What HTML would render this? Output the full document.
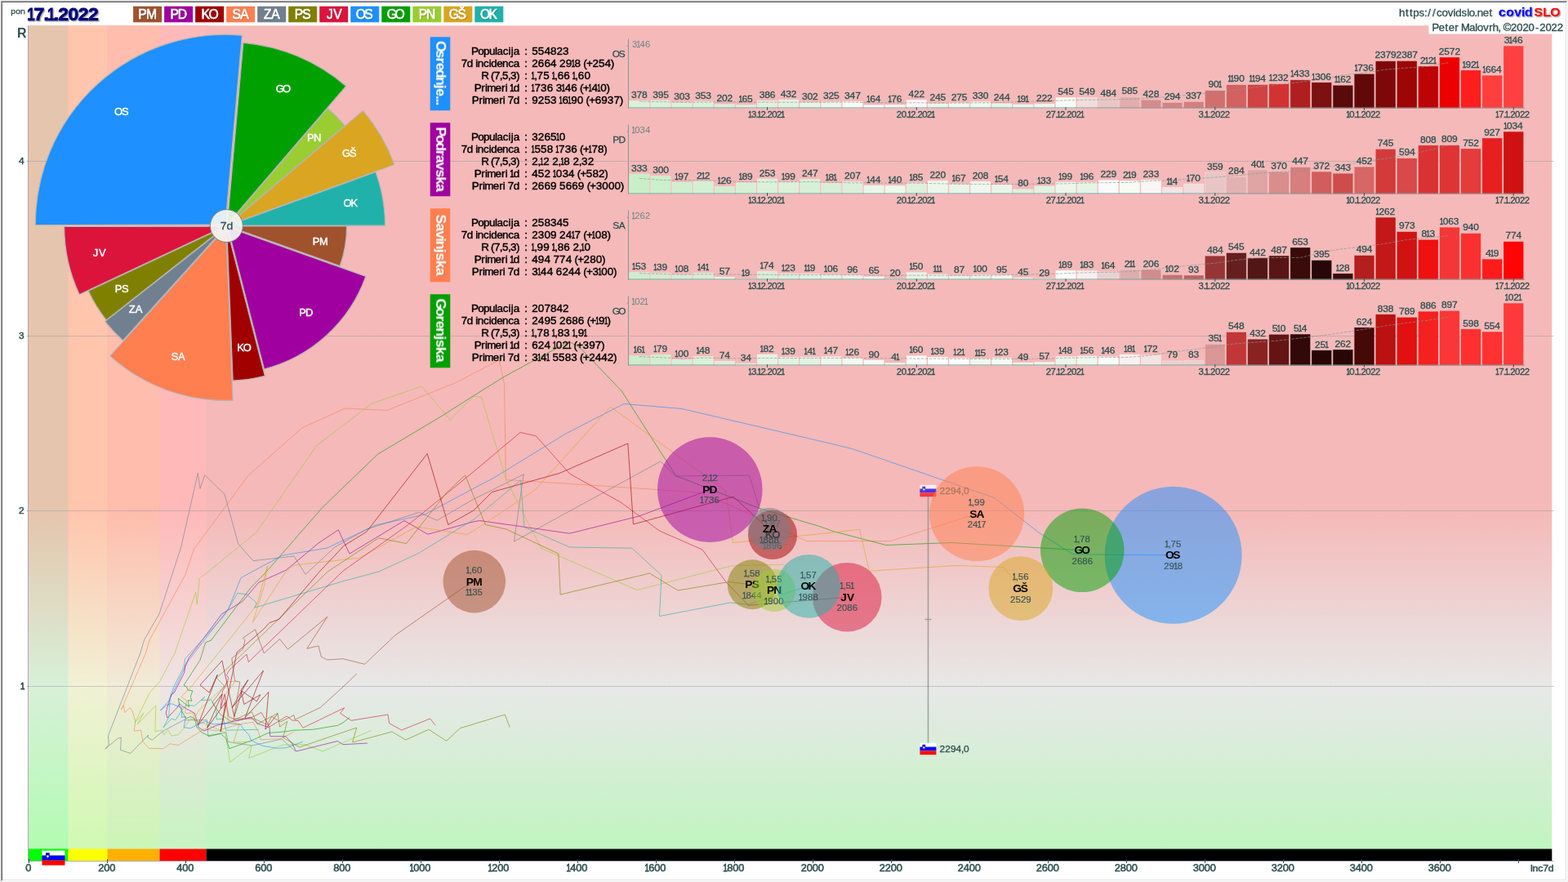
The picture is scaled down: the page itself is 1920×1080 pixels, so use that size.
<!DOCTYPE html>
<html lang="sl"><head><meta charset="utf-8"><title>covidSLO 17.1.2022</title>
<style>html,body{margin:0;padding:0;background:#fff;overflow:hidden}body{width:1920px;height:1080px;font-family:"Liberation Sans",sans-serif}svg{display:block;will-change:transform}text{white-space:pre}</style>
</head><body>
<svg width="1920" height="1080" viewBox="0 0 1920 1080" font-family="'Liberation Sans', sans-serif">
<defs>
<linearGradient id="g0" x1="0" y1="31.3" x2="0" y2="1054" gradientUnits="userSpaceOnUse"><stop offset="0" stop-color="#f5b9b9"/><stop offset="0.5817" stop-color="#f5b9b9"/><stop offset="0.7912" stop-color="#e8e8e8"/><stop offset="1" stop-color="#bdf6bd"/></linearGradient>
<linearGradient id="g1" x1="0" y1="31.3" x2="0" y2="1054" gradientUnits="userSpaceOnUse"><stop offset="0" stop-color="#e5c5ad"/><stop offset="0.5817" stop-color="#e5c5ad"/><stop offset="0.7912" stop-color="#d8f0d8"/><stop offset="1" stop-color="#b0fcb0"/></linearGradient>
<linearGradient id="g2" x1="0" y1="31.3" x2="0" y2="1054" gradientUnits="userSpaceOnUse"><stop offset="0" stop-color="#ffc5ad"/><stop offset="0.5817" stop-color="#ffc5ad"/><stop offset="0.7912" stop-color="#f1f1d5"/><stop offset="1" stop-color="#cdfab0"/></linearGradient>
<linearGradient id="g3" x1="0" y1="31.3" x2="0" y2="1054" gradientUnits="userSpaceOnUse"><stop offset="0" stop-color="#ffbdad"/><stop offset="0.5817" stop-color="#ffbdad"/><stop offset="0.7912" stop-color="#f1ebd7"/><stop offset="1" stop-color="#c9f6b4"/></linearGradient>
<linearGradient id="g4" x1="0" y1="31.3" x2="0" y2="1054" gradientUnits="userSpaceOnUse"><stop offset="0" stop-color="#ffb9b9"/><stop offset="0.5817" stop-color="#ffb9b9"/><stop offset="0.7912" stop-color="#f0e4e4"/><stop offset="1" stop-color="#c4f4c0"/></linearGradient>
<filter id="shd" x="-20%" y="-30%" width="140%" height="160%"><feDropShadow dx="0.7" dy="0.7" stdDeviation="0.2" flood-color="#000000" flood-opacity="0.3"/></filter>
<filter id="shr" x="-20%" y="-30%" width="140%" height="160%"><feDropShadow dx="0.7" dy="-0.7" stdDeviation="0.2" flood-color="#000000" flood-opacity="0.3"/></filter>
<filter id="shl" x="-20%" y="-30%" width="140%" height="160%"><feDropShadow dx="1.2" dy="1.2" stdDeviation="0.3" flood-color="#909090" flood-opacity="0.75"/></filter>
</defs>
<rect x="0" y="0" width="1920" height="1080" fill="#f0f0f0"/>
<rect x="1" y="1" width="1918" height="1078" fill="#ffffff"/>
<path d="M1 1 H1919 V2 H2 V1079 H1 Z" fill="#a0a0a0"/>
<rect x="2" y="2" width="1916" height="1076" fill="#e3e3e3"/>
<path d="M2 2 H1918 V3 H3 V1078 H2 Z" fill="#696969"/>
<rect x="3" y="3" width="1914" height="1074" fill="#ffffff"/>
<rect x="34" y="31.3" width="1866.3" height="1022.7" fill="url(#g0)"/>
<rect x="36" y="31.3" width="47.5" height="1022.7" fill="url(#g1)"/>
<rect x="83.5" y="31.3" width="48.0" height="1022.7" fill="url(#g2)"/>
<rect x="131.5" y="31.3" width="64.0" height="1022.7" fill="url(#g3)"/>
<rect x="195.5" y="31.3" width="57.0" height="1022.7" fill="url(#g4)"/>
<rect x="35" y="1039.5" width="48.5" height="14.5" fill="#00ff00"/>
<rect x="83.5" y="1039.5" width="48.0" height="14.5" fill="#ffff00"/>
<rect x="131.5" y="1039.5" width="64.0" height="14.5" fill="#ffb000"/>
<rect x="195.5" y="1039.5" width="57.0" height="14.5" fill="#ff0000"/>
<rect x="252.5" y="1039.5" width="1647.8" height="14.5" fill="#000000"/>
<line x1="34.5" y1="31.3" x2="34.5" y2="1054" stroke="#a8a8a8" stroke-width="1"/>
<line x1="34" y1="1054.5" x2="1902.3" y2="1054.5" stroke="#8888a0" stroke-width="1" opacity="0.7"/>
<line x1="33" y1="840.5" x2="1903.0" y2="840.5" stroke="#8c949c" stroke-width="1" stroke-dasharray="1 1" opacity="0.85"/>
<text transform="scale(1.08,1)" y="843.70" font-size="11.01" fill="#2f4f4f" font-weight="normal" stroke="#2f4f4f" stroke-width="0.45"><tspan x="23.06" textLength="5.01" lengthAdjust="spacingAndGlyphs" stroke="#2f4f4f" stroke-width="0.75">1</tspan></text>
<line x1="33" y1="625.5" x2="1903.0" y2="625.5" stroke="#8c949c" stroke-width="1" stroke-dasharray="1 1" opacity="0.85"/>
<text transform="scale(1.08,1)" y="628.70" font-size="11.01" fill="#2f4f4f" font-weight="normal" stroke="#2f4f4f" stroke-width="0.45"><tspan x="21.27">2</tspan></text>
<line x1="33" y1="411.5" x2="1903.0" y2="411.5" stroke="#8c949c" stroke-width="1" stroke-dasharray="1 1" opacity="0.85"/>
<text transform="scale(1.08,1)" y="414.70" font-size="11.01" fill="#2f4f4f" font-weight="normal" stroke="#2f4f4f" stroke-width="0.45"><tspan x="21.27">3</tspan></text>
<line x1="33" y1="197.5" x2="1903.0" y2="197.5" stroke="#8c949c" stroke-width="1" stroke-dasharray="1 1" opacity="0.85"/>
<text transform="scale(1.08,1)" y="200.70" font-size="11.01" fill="#2f4f4f" font-weight="normal" stroke="#2f4f4f" stroke-width="0.45"><tspan x="21.27">4</tspan></text>
<text transform="scale(1.0,1)" y="45.80" font-size="15.94" fill="#2f4f4f" font-weight="bold"><tspan x="21.04">R</tspan></text>
<line x1="35.5" y1="1052" x2="35.5" y2="1057" stroke="#2f4f4f" stroke-width="1"/>
<text transform="scale(1.08,1)" y="1066.70" font-size="11.88" fill="#2f4f4f" font-weight="normal" stroke="#2f4f4f" stroke-width="0.5"><tspan x="28.92">0</tspan></text>
<line x1="131.5" y1="1052" x2="131.5" y2="1057" stroke="#2f4f4f" stroke-width="1"/>
<text transform="scale(1.08,1)" y="1066.70" font-size="11.88" fill="#2f4f4f" font-weight="normal" stroke="#2f4f4f" stroke-width="0.5"><tspan x="111.37 117.81 124.24">200</tspan></text>
<line x1="227.5" y1="1052" x2="227.5" y2="1057" stroke="#2f4f4f" stroke-width="1"/>
<text transform="scale(1.08,1)" y="1066.70" font-size="11.88" fill="#2f4f4f" font-weight="normal" stroke="#2f4f4f" stroke-width="0.5"><tspan x="200.26 206.70 213.13">400</tspan></text>
<line x1="323.5" y1="1052" x2="323.5" y2="1057" stroke="#2f4f4f" stroke-width="1"/>
<text transform="scale(1.08,1)" y="1066.70" font-size="11.88" fill="#2f4f4f" font-weight="normal" stroke="#2f4f4f" stroke-width="0.5"><tspan x="289.15 295.58 302.02">600</tspan></text>
<line x1="419.5" y1="1052" x2="419.5" y2="1057" stroke="#2f4f4f" stroke-width="1"/>
<text transform="scale(1.08,1)" y="1066.70" font-size="11.88" fill="#2f4f4f" font-weight="normal" stroke="#2f4f4f" stroke-width="0.5"><tspan x="378.04 384.47 390.91">800</tspan></text>
<line x1="515.5" y1="1052" x2="515.5" y2="1057" stroke="#2f4f4f" stroke-width="1"/>
<text transform="scale(1.08,1)" y="1066.70" font-size="11.88" fill="#2f4f4f" font-weight="normal" stroke="#2f4f4f" stroke-width="0.5"><tspan x="464.44" textLength="4.94" lengthAdjust="spacingAndGlyphs" stroke="#2f4f4f" stroke-width="0.80">1</tspan><tspan x="468.83 475.26 481.70">000</tspan></text>
<line x1="611.5" y1="1052" x2="611.5" y2="1057" stroke="#2f4f4f" stroke-width="1"/>
<text transform="scale(1.08,1)" y="1066.70" font-size="11.88" fill="#2f4f4f" font-weight="normal" stroke="#2f4f4f" stroke-width="0.5"><tspan x="553.33" textLength="4.94" lengthAdjust="spacingAndGlyphs" stroke="#2f4f4f" stroke-width="0.80">1</tspan><tspan x="557.72 564.15 570.59">200</tspan></text>
<line x1="707.5" y1="1052" x2="707.5" y2="1057" stroke="#2f4f4f" stroke-width="1"/>
<text transform="scale(1.08,1)" y="1066.70" font-size="11.88" fill="#2f4f4f" font-weight="normal" stroke="#2f4f4f" stroke-width="0.5"><tspan x="642.22" textLength="4.94" lengthAdjust="spacingAndGlyphs" stroke="#2f4f4f" stroke-width="0.80">1</tspan><tspan x="646.60 653.04 659.48">400</tspan></text>
<line x1="803.5" y1="1052" x2="803.5" y2="1057" stroke="#2f4f4f" stroke-width="1"/>
<text transform="scale(1.08,1)" y="1066.70" font-size="11.88" fill="#2f4f4f" font-weight="normal" stroke="#2f4f4f" stroke-width="0.5"><tspan x="731.11" textLength="4.94" lengthAdjust="spacingAndGlyphs" stroke="#2f4f4f" stroke-width="0.80">1</tspan><tspan x="735.49 741.93 748.37">600</tspan></text>
<line x1="899.5" y1="1052" x2="899.5" y2="1057" stroke="#2f4f4f" stroke-width="1"/>
<text transform="scale(1.08,1)" y="1066.70" font-size="11.88" fill="#2f4f4f" font-weight="normal" stroke="#2f4f4f" stroke-width="0.5"><tspan x="820.00" textLength="4.94" lengthAdjust="spacingAndGlyphs" stroke="#2f4f4f" stroke-width="0.80">1</tspan><tspan x="824.38 830.82 837.26">800</tspan></text>
<line x1="995.5" y1="1052" x2="995.5" y2="1057" stroke="#2f4f4f" stroke-width="1"/>
<text transform="scale(1.08,1)" y="1066.70" font-size="11.88" fill="#2f4f4f" font-weight="normal" stroke="#2f4f4f" stroke-width="0.5"><tspan x="908.15 914.59 921.02 927.46">2000</tspan></text>
<line x1="1091.5" y1="1052" x2="1091.5" y2="1057" stroke="#2f4f4f" stroke-width="1"/>
<text transform="scale(1.08,1)" y="1066.70" font-size="11.88" fill="#2f4f4f" font-weight="normal" stroke="#2f4f4f" stroke-width="0.5"><tspan x="997.04 1003.48 1009.91 1016.35">2200</tspan></text>
<line x1="1187.5" y1="1052" x2="1187.5" y2="1057" stroke="#2f4f4f" stroke-width="1"/>
<text transform="scale(1.08,1)" y="1066.70" font-size="11.88" fill="#2f4f4f" font-weight="normal" stroke="#2f4f4f" stroke-width="0.5"><tspan x="1085.93 1092.37 1098.80 1105.24">2400</tspan></text>
<line x1="1283.5" y1="1052" x2="1283.5" y2="1057" stroke="#2f4f4f" stroke-width="1"/>
<text transform="scale(1.08,1)" y="1066.70" font-size="11.88" fill="#2f4f4f" font-weight="normal" stroke="#2f4f4f" stroke-width="0.5"><tspan x="1174.82 1181.25 1187.69 1194.13">2600</tspan></text>
<line x1="1379.5" y1="1052" x2="1379.5" y2="1057" stroke="#2f4f4f" stroke-width="1"/>
<text transform="scale(1.08,1)" y="1066.70" font-size="11.88" fill="#2f4f4f" font-weight="normal" stroke="#2f4f4f" stroke-width="0.5"><tspan x="1263.71 1270.14 1276.58 1283.02">2800</tspan></text>
<line x1="1475.5" y1="1052" x2="1475.5" y2="1057" stroke="#2f4f4f" stroke-width="1"/>
<text transform="scale(1.08,1)" y="1066.70" font-size="11.88" fill="#2f4f4f" font-weight="normal" stroke="#2f4f4f" stroke-width="0.5"><tspan x="1352.60 1359.03 1365.47 1371.91">3000</tspan></text>
<line x1="1571.5" y1="1052" x2="1571.5" y2="1057" stroke="#2f4f4f" stroke-width="1"/>
<text transform="scale(1.08,1)" y="1066.70" font-size="11.88" fill="#2f4f4f" font-weight="normal" stroke="#2f4f4f" stroke-width="0.5"><tspan x="1441.48 1447.92 1454.36 1460.80">3200</tspan></text>
<line x1="1667.5" y1="1052" x2="1667.5" y2="1057" stroke="#2f4f4f" stroke-width="1"/>
<text transform="scale(1.08,1)" y="1066.70" font-size="11.88" fill="#2f4f4f" font-weight="normal" stroke="#2f4f4f" stroke-width="0.5"><tspan x="1530.37 1536.81 1543.25 1549.68">3400</tspan></text>
<line x1="1763.5" y1="1052" x2="1763.5" y2="1057" stroke="#2f4f4f" stroke-width="1"/>
<text transform="scale(1.08,1)" y="1066.70" font-size="11.88" fill="#2f4f4f" font-weight="normal" stroke="#2f4f4f" stroke-width="0.5"><tspan x="1619.26 1625.70 1632.14 1638.57">3600</tspan></text>
<line x1="1859.5" y1="1052" x2="1859.5" y2="1057" stroke="#2f4f4f" stroke-width="1"/>
<text transform="scale(1.08,1)" y="1066.70" font-size="11.45" fill="#2f4f4f" font-weight="normal" stroke="#2f4f4f" stroke-width="0.45"><tspan x="1735.02 1737.58 1743.73 1749.35 1755.29">Inc7d</tspan></text>
<g opacity="1">
<rect x="51.5" y="1041.6" width="28" height="5.97" fill="#ffffff"/>
<rect x="51.5" y="1047.57" width="28" height="5.97" fill="#0000ff"/>
<rect x="51.5" y="1053.53" width="28" height="5.97" fill="#ff0000"/>
<path d="M56.03 1044.18 H60.69 V1048.37 Q60.69 1050.23 58.36 1051.62 Q56.03 1050.23 56.03 1048.37 Z" fill="#0000c8"/>
<circle cx="58.36" cy="1048.60" r="1.44" fill="#ffffff"/>
<circle cx="58.36" cy="1051.04" r="0.70" fill="#ff0000"/>
</g>
<polyline points="361.7,920.0 345.0,905.0 308.3,913.0 279.2,908.3 276.7,896.7 255.0,902.0 253.3,881.7 225.0,881.7 200.0,895.0 186.3,906.2 180.8,903.0 181.7,900.0 159.7,922.5 147.5,918.3 148.3,903.3 144.2,904.2 128.7,917.2 133.3,911.7 132.5,900.8 171.7,800.0 176.7,783.3 195.0,751.7 221.7,670.0 242.3,579.3 245.0,598.3 250.7,581.7 275.0,605.0 291.7,666.0 310.0,686.7 360.0,681.0 374.0,703.3 410.0,670.0 448.3,648.3 513.3,627.3 535.0,637.3 580.0,611.2 641.2,580.8 629.5,663.0 808.8,565.0 827.5,583.0 917.5,582.0 930.0,622.5 942.2,648.0" fill="none" stroke="#708090" stroke-width="1" stroke-opacity="0.6" stroke-linejoin="round"/>
<polyline points="359.2,896.7 343.3,904.7 319.2,905.8 316.7,896.7 310.0,884.2 293.3,886.7 265.0,895.0 250.0,892.5 245.0,895.8 218.3,912.5 208.3,910.8 200.0,916.7 182.5,916.3 175.0,908.3 172.5,894.2 164.2,895.0 165.8,883.3 162.5,871.7 159.2,866.7 152.5,872.5 151.7,864.2 148.3,869.2 151.7,861.7 178.3,800.0 183.3,783.3 226.7,704.2 237.5,672.5 303.8,582.5 370.0,523.8 422.5,500.0 473.8,502.5 557.5,468.8 611.2,441.0 617.5,470.0 619.5,587.5 730.0,594.5 855.0,603.0 897.5,620.0 987.5,662.5 1090.0,662.5 1196.2,629.2" fill="none" stroke="#ff7f50" stroke-width="1" stroke-opacity="0.6" stroke-linejoin="round"/>
<polyline points="455.0,894.3 395.0,920.0 373.3,911.7 346.7,912.0 304.7,928.3 308.3,912.5 281.7,933.3 275.8,896.7 250.0,886.0 233.3,880.0 225.0,891.7 218.3,899.7 210.0,901.2 205.8,893.7 200.8,900.0 198.3,894.2 190.0,895.8 190.8,863.7 168.3,886.7 175.8,873.3 165.0,885.0 183.3,848.3 195.8,834.2 214.2,799.2 239.7,725.0 241.3,740.0 244.2,708.3 255.0,700.0 313.8,652.0 387.5,545.8 455.0,494.2 516.2,473.0 551.2,514.2 580.0,485.0 589.5,486.2 620.0,588.0 662.5,671.2 780.0,722.5 895.0,693.0 960.0,691.2 963.8,695.0 948.0,722.8" fill="none" stroke="#9acd32" stroke-width="1" stroke-opacity="0.6" stroke-linejoin="round"/>
<polyline points="428.3,878.3 420.0,885.0 413.3,888.3 383.3,893.3 360.0,894.2 350.0,895.8 328.3,897.5 308.3,906.7 280.8,916.7 276.7,904.2 270.0,898.3 255.0,900.8 246.7,896.7 240.8,890.0 238.3,880.0 233.3,877.5 227.5,880.0 220.0,865.0 218.3,855.0 231.7,865.8 230.0,857.5 235.0,858.3 233.3,853.3 235.8,845.8 230.0,845.0 228.3,840.8 225.0,839.2 245.0,808.3 251.7,786.7 258.3,784.2 306.7,720.0 326.2,700.0 395.0,621.2 462.5,556.2 540.0,510.0 580.0,484.5 617.5,461.2 684.0,425.0 697.0,418.5 709.6,425.0 761.2,478.8 827.5,582.5 930.0,622.5 1005.0,645.0 1020.0,650.5 1085.0,667.5 1165.0,664.5 1325.3,673.9" fill="none" stroke="#00a000" stroke-width="1" stroke-opacity="0.6" stroke-linejoin="round"/>
<polyline points="370.8,908.3 350.0,915.8 340.0,916.3 321.7,913.3 307.5,906.7 305.0,900.0 298.3,893.3 295.0,887.5 281.7,885.8 260.0,886.7 251.7,883.3 241.7,887.5 233.3,891.7 225.0,890.8 227.5,877.5 222.5,878.3 222.5,866.7 210.0,861.7 204.2,863.3 196.3,870.0 206.7,858.3 230.0,810.0 280.0,745.0 295.0,707.5 327.5,690.0 346.2,680.0 400.0,671.2 460.0,643.2 520.0,630.0 580.0,598.0 605.0,585.0 692.5,531.2 763.8,494.5 835.0,500.5 1020.0,543.8 1045.0,550.0 1217.5,609.5 1272.5,652.5 1313.8,678.8 1436.6,679.8" fill="none" stroke="#1e90ff" stroke-width="1" stroke-opacity="0.6" stroke-linejoin="round"/>
<polyline points="450.0,910.0 420.0,911.7 413.3,907.5 362.5,920.0 357.5,910.0 350.0,901.7 330.8,901.7 330.0,890.8 316.7,886.7 306.7,878.3 265.0,888.3 250.0,895.0 243.3,890.8 238.3,873.3 223.3,865.0 220.0,861.7 216.7,866.7 205.0,879.2 203.3,873.3 204.2,868.3 210.0,850.0 213.3,848.3 225.8,823.3 226.7,815.0 231.7,805.0 271.7,751.7 296.7,736.7 316.7,713.3 350.0,698.3 390.0,665.0 414.2,648.8 428.0,678.0 495.0,637.5 523.8,654.2 580.0,638.8 587.5,637.5 697.5,653.2 782.5,632.0 869.3,599.6" fill="none" stroke="#a000a0" stroke-width="1" stroke-opacity="0.6" stroke-linejoin="round"/>
<polyline points="316.7,893.3 276.7,894.2 273.3,880.0 265.0,880.8 265.0,868.3 258.3,856.7 246.7,857.5 250.8,853.3 245.0,858.3 238.3,864.2 228.3,863.3 222.5,870.0 215.0,881.7 210.0,880.0 200.0,890.8 206.7,878.3 208.3,853.3 213.3,840.0 225.0,816.7 226.7,806.7 275.0,753.3 290.8,726.3 302.5,728.0 314.2,738.3 311.7,744.2 420.0,711.7 463.8,700.0 512.5,677.5 580.0,636.2 637.5,588.0 642.0,645.5 697.5,670.0 773.8,671.2 810.0,704.5 807.5,754.5 893.8,738.0 916.2,740.0 990.2,717.9" fill="none" stroke="#20b2aa" stroke-width="1" stroke-opacity="0.6" stroke-linejoin="round"/>
<polyline points="306.7,908.0 285.8,909.2 293.3,886.7 279.2,883.3 278.3,871.7 275.0,863.3 275.0,851.7 288.3,834.2 278.3,835.0 273.3,841.7 243.3,870.0 237.5,881.7 236.7,873.3 226.7,873.3 228.3,857.5 221.7,853.3 233.3,841.7 283.3,780.0 315.0,740.0 325.8,698.3 327.5,693.3 323.3,718.3 309.5,761.7 350.0,700.0 360.0,692.0 440.0,683.2 510.0,645.0 571.2,654.5 580.0,650.0 655.0,600.0 747.5,498.0 888.8,601.2 897.5,664.5 955.0,658.8 1020.0,652.0 1052.5,648.2 1064.5,699.2 1170.0,692.5 1228.8,694.5 1249.9,720.7" fill="none" stroke="#daa520" stroke-width="1" stroke-opacity="0.6" stroke-linejoin="round"/>
<polyline points="533.3,888.3 526.7,880.0 491.7,894.0 476.7,885.7 475.0,875.0 430.0,882.3 416.7,873.3 421.7,866.7 420.0,867.5 371.2,891.2 365.0,882.5 357.5,881.9 351.2,876.9 330.0,890.0 320.0,872.5 307.5,878.8 290.0,882.5 280.0,877.5 275.0,850.0 270.0,867.5 272.5,846.2 276.2,840.0 280.0,830.6 277.5,826.2 281.2,820.0 301.9,801.2 304.4,810.6 336.2,780.0 420.0,699.2 500.0,642.5 580.0,577.5 637.0,529.5 656.2,533.8 697.5,580.0 760.0,615.0 807.5,650.0 860.0,673.0 888.8,712.5 916.2,741.2 1037.3,731.2" fill="none" stroke="#dc143c" stroke-width="1" stroke-opacity="0.6" stroke-linejoin="round"/>
<polyline points="624.3,890.7 618.3,875.0 563.3,891.7 546.7,907.3 525.0,893.3 496.7,906.0 480.0,896.0 431.7,909.0 436.7,891.0 420.0,896.7 366.7,915.0 346.7,903.3 351.7,883.3 342.5,890.0 340.0,873.3 315.0,886.7 308.3,871.7 283.3,883.3 270.0,875.0 260.0,860.0 275.0,840.0 265.0,830.0 276.7,820.0 341.7,757.5 401.2,700.0 463.8,658.8 497.5,665.5 547.5,602.5 569.5,581.8 580.0,607.5 594.5,642.5 620.0,648.0 683.8,678.0 686.2,728.0 795.5,702.0 830.0,723.0 892.5,712.5 921.1,715.8" fill="none" stroke="#808000" stroke-width="1" stroke-opacity="0.6" stroke-linejoin="round"/>
<polyline points="340.0,873.8 325.0,893.1 328.8,847.5 300.0,878.8 322.5,821.2 284.4,866.2 303.8,832.5 295.0,845.0 298.8,862.5 318.8,850.6 314.4,858.8 296.2,846.2 286.9,877.5 271.9,809.0 245.0,838.8 256.2,848.1 266.2,826.2 242.5,887.5 271.9,850.0 253.8,891.2 276.2,860.0 270.0,896.2 290.0,798.8 323.3,770.0 330.0,762.5 341.7,758.3 391.2,700.0 421.2,668.2 448.8,651.2 523.2,555.5 548.8,642.5 580.0,625.0 602.5,602.5 685.0,579.5 768.8,543.0 775.5,642.0 898.0,608.2 930.0,637.5 946.1,654.9" fill="none" stroke="#a00000" stroke-width="1" stroke-opacity="0.6" stroke-linejoin="round"/>
<polyline points="436.7,825.0 420.0,841.2 392.5,866.2 361.2,881.2 360.0,875.6 343.8,883.8 332.5,877.5 327.5,887.5 311.2,880.0 286.2,880.0 293.8,835.0 287.5,833.8 283.8,806.2 297.5,795.0 300.0,783.8 297.5,781.2 312.5,770.8 323.3,800.0 342.5,782.5 352.5,795.0 400.8,755.3 375.8,794.2 390.0,790.8 393.3,804.2 400.8,808.0 420.0,806.7 446.7,813.3 483.3,778.3 566.7,720.0 580.8,712.1" fill="none" stroke="#a0522d" stroke-width="1" stroke-opacity="0.6" stroke-linejoin="round"/>
<line x1="1136.5" y1="608" x2="1136.5" y2="910" stroke="#808080" stroke-width="1.6" opacity="0.65"/>
<line x1="1132.5" y1="758.5" x2="1140.5" y2="758.5" stroke="#808080" stroke-width="1.3" opacity="0.65"/>
<g opacity="0.7">
<rect x="1126.4" y="593.7" width="20" height="4.83" fill="#ffffff"/>
<rect x="1126.4" y="598.53" width="20" height="4.83" fill="#0000ff"/>
<rect x="1126.4" y="603.37" width="20" height="4.83" fill="#ff0000"/>
<path d="M1129.42 595.79 H1133.19 V599.18 Q1133.19 600.69 1131.30 601.82 Q1129.42 600.69 1129.42 599.18 Z" fill="#0000c8"/>
<circle cx="1131.30" cy="599.37" r="1.17" fill="#ffffff"/>
<circle cx="1131.30" cy="601.35" r="0.57" fill="#ff0000"/>
</g>
<g opacity="0.95">
<rect x="1126.4" y="909.7" width="20" height="4.83" fill="#ffffff"/>
<rect x="1126.4" y="914.53" width="20" height="4.83" fill="#0000ff"/>
<rect x="1126.4" y="919.37" width="20" height="4.83" fill="#ff0000"/>
<path d="M1129.42 911.79 H1133.19 V915.18 Q1133.19 916.69 1131.30 917.82 Q1129.42 916.69 1129.42 915.18 Z" fill="#0000c8"/>
<circle cx="1131.30" cy="915.37" r="1.17" fill="#ffffff"/>
<circle cx="1131.30" cy="917.35" r="0.57" fill="#ff0000"/>
</g>
<text transform="scale(1.08,1)" y="605.20" font-size="11.01" fill="#2f4f4f" font-weight="normal" stroke="#2f4f4f" stroke-width="0.3" opacity="0.75"><tspan x="1065.31 1071.50 1077.70 1083.89 1089.78 1092.61">2294,0</tspan></text>
<text transform="scale(1.08,1)" y="921.20" font-size="11.01" fill="#2f4f4f" font-weight="normal" stroke="#2f4f4f" stroke-width="0.3"><tspan x="1065.31 1071.50 1077.70 1083.89 1089.78 1092.61">2294,0</tspan></text>
<circle cx="580.80" cy="712.12" r="38.30" fill="#a0522d" fill-opacity="0.5"/>
<text transform="scale(1.08,1)" y="701.92" font-size="10.58" fill="#2f4f4f" font-weight="normal" stroke="#2f4f4f" stroke-width="0.2" opacity="0.9"><tspan x="528.24" textLength="4.57" lengthAdjust="spacingAndGlyphs" stroke="#2f4f4f" stroke-width="0.50">1</tspan><tspan x="532.12 534.84 540.78">,60</tspan></text>
<text transform="scale(1.08,1)" y="716.52" font-size="12.75" fill="#000000" font-weight="bold"><tspan x="528.43 536.46">PM</tspan></text>
<text transform="scale(1.08,1)" y="729.02" font-size="10.58" fill="#2f4f4f" font-weight="normal" stroke="#2f4f4f" stroke-width="0.2" opacity="0.9"><tspan x="527.70" textLength="4.57" lengthAdjust="spacingAndGlyphs" stroke="#2f4f4f" stroke-width="0.50">1</tspan><tspan x="531.21" textLength="4.57" lengthAdjust="spacingAndGlyphs" stroke="#2f4f4f" stroke-width="0.50">1</tspan><tspan x="535.38 541.32">35</tspan></text>
<circle cx="869.28" cy="599.59" r="64.30" fill="#a000a0" fill-opacity="0.5"/>
<text transform="scale(1.08,1)" y="589.39" font-size="10.58" fill="#2f4f4f" font-weight="normal" stroke="#2f4f4f" stroke-width="0.2" opacity="0.9"><tspan x="796.00 801.66">2,</tspan><tspan x="803.73" textLength="4.57" lengthAdjust="spacingAndGlyphs" stroke="#2f4f4f" stroke-width="0.50">1</tspan><tspan x="807.90">2</tspan></text>
<text transform="scale(1.08,1)" y="603.99" font-size="12.75" fill="#000000" font-weight="bold"><tspan x="796.64 804.28">PD</tspan></text>
<text transform="scale(1.08,1)" y="616.49" font-size="10.58" fill="#2f4f4f" font-weight="normal" stroke="#2f4f4f" stroke-width="0.2" opacity="0.9"><tspan x="793.59" textLength="4.57" lengthAdjust="spacingAndGlyphs" stroke="#2f4f4f" stroke-width="0.50">1</tspan><tspan x="797.76 803.70 809.65">736</tspan></text>
<circle cx="946.08" cy="654.89" r="30.05" fill="#a00000" fill-opacity="0.5"/>
<text transform="scale(1.08,1)" y="644.69" font-size="10.58" fill="#2f4f4f" font-weight="normal" stroke="#2f4f4f" stroke-width="0.2" opacity="0.9"><tspan x="866.46" textLength="4.57" lengthAdjust="spacingAndGlyphs" stroke="#2f4f4f" stroke-width="0.50">1</tspan><tspan x="870.34 873.06 879.01">,87</tspan></text>
<text transform="scale(1.08,1)" y="659.29" font-size="12.75" fill="#000000" font-weight="bold"><tspan x="867.40 875.03">KO</tspan></text>
<text transform="scale(1.08,1)" y="671.79" font-size="10.58" fill="#2f4f4f" font-weight="normal" stroke="#2f4f4f" stroke-width="0.2" opacity="0.9"><tspan x="864.70" textLength="4.57" lengthAdjust="spacingAndGlyphs" stroke="#2f4f4f" stroke-width="0.50">1</tspan><tspan x="868.87 874.82 880.76">896</tspan></text>
<circle cx="1196.16" cy="629.17" r="58.00" fill="#ff7f50" fill-opacity="0.5"/>
<text transform="scale(1.08,1)" y="618.97" font-size="10.58" fill="#2f4f4f" font-weight="normal" stroke="#2f4f4f" stroke-width="0.2" opacity="0.9"><tspan x="1098.01" textLength="4.57" lengthAdjust="spacingAndGlyphs" stroke="#2f4f4f" stroke-width="0.50">1</tspan><tspan x="1101.90 1104.61 1110.56">,99</tspan></text>
<text transform="scale(1.08,1)" y="633.57" font-size="12.75" fill="#000000" font-weight="bold"><tspan x="1099.31 1106.94">SA</tspan></text>
<text transform="scale(1.08,1)" y="646.07" font-size="10.58" fill="#2f4f4f" font-weight="normal" stroke="#2f4f4f" stroke-width="0.2" opacity="0.9"><tspan x="1096.91 1102.86">24</tspan><tspan x="1108.15" textLength="4.57" lengthAdjust="spacingAndGlyphs" stroke="#2f4f4f" stroke-width="0.50">1</tspan><tspan x="1112.32">7</tspan></text>
<circle cx="942.24" cy="648.03" r="26.20" fill="#708090" fill-opacity="0.5"/>
<text transform="scale(1.08,1)" y="637.83" font-size="10.58" fill="#2f4f4f" font-weight="normal" stroke="#2f4f4f" stroke-width="0.2" opacity="0.9"><tspan x="862.90" textLength="4.57" lengthAdjust="spacingAndGlyphs" stroke="#2f4f4f" stroke-width="0.50">1</tspan><tspan x="866.78 869.50 875.45">,90</tspan></text>
<text transform="scale(1.08,1)" y="652.43" font-size="12.75" fill="#000000" font-weight="bold"><tspan x="864.56 871.83">ZA</tspan></text>
<text transform="scale(1.08,1)" y="664.93" font-size="10.58" fill="#2f4f4f" font-weight="normal" stroke="#2f4f4f" stroke-width="0.2" opacity="0.9"><tspan x="861.15" textLength="4.57" lengthAdjust="spacingAndGlyphs" stroke="#2f4f4f" stroke-width="0.50">1</tspan><tspan x="865.31 871.26 877.21">888</tspan></text>
<circle cx="921.12" cy="715.76" r="30.40" fill="#808000" fill-opacity="0.5"/>
<text transform="scale(1.08,1)" y="705.56" font-size="10.58" fill="#2f4f4f" font-weight="normal" stroke="#2f4f4f" stroke-width="0.2" opacity="0.9"><tspan x="843.35" textLength="4.57" lengthAdjust="spacingAndGlyphs" stroke="#2f4f4f" stroke-width="0.50">1</tspan><tspan x="847.23 849.95 855.90">,58</tspan></text>
<text transform="scale(1.08,1)" y="720.16" font-size="12.75" fill="#000000" font-weight="bold"><tspan x="844.64 852.63">PS</tspan></text>
<text transform="scale(1.08,1)" y="732.66" font-size="10.58" fill="#2f4f4f" font-weight="normal" stroke="#2f4f4f" stroke-width="0.2" opacity="0.9"><tspan x="841.59" textLength="4.57" lengthAdjust="spacingAndGlyphs" stroke="#2f4f4f" stroke-width="0.50">1</tspan><tspan x="845.76 851.70 857.65">844</tspan></text>
<circle cx="1037.28" cy="731.19" r="42.30" fill="#dc143c" fill-opacity="0.5"/>
<text transform="scale(1.08,1)" y="720.99" font-size="10.58" fill="#2f4f4f" font-weight="normal" stroke="#2f4f4f" stroke-width="0.2" opacity="0.9"><tspan x="952.12" textLength="4.57" lengthAdjust="spacingAndGlyphs" stroke="#2f4f4f" stroke-width="0.50">1</tspan><tspan x="956.00 958.72">,5</tspan><tspan x="964.02" textLength="4.57" lengthAdjust="spacingAndGlyphs" stroke="#2f4f4f" stroke-width="0.50">1</tspan></text>
<text transform="scale(1.08,1)" y="735.59" font-size="12.75" fill="#000000" font-weight="bold"><tspan x="952.91 960.18">JV</tspan></text>
<text transform="scale(1.08,1)" y="748.09" font-size="10.58" fill="#2f4f4f" font-weight="normal" stroke="#2f4f4f" stroke-width="0.2" opacity="0.9"><tspan x="948.58 954.53 960.48 966.42">2086</tspan></text>
<circle cx="1436.64" cy="679.82" r="84.00" fill="#1e90ff" fill-opacity="0.5"/>
<text transform="scale(1.08,1)" y="669.62" font-size="10.58" fill="#2f4f4f" font-weight="normal" stroke="#2f4f4f" stroke-width="0.2" opacity="0.9"><tspan x="1320.68" textLength="4.57" lengthAdjust="spacingAndGlyphs" stroke="#2f4f4f" stroke-width="0.50">1</tspan><tspan x="1324.56 1327.28 1333.23">,75</tspan></text>
<text transform="scale(1.08,1)" y="684.22" font-size="12.75" fill="#000000" font-weight="bold"><tspan x="1321.27 1329.96">OS</tspan></text>
<text transform="scale(1.08,1)" y="696.72" font-size="10.58" fill="#2f4f4f" font-weight="normal" stroke="#2f4f4f" stroke-width="0.2" opacity="0.9"><tspan x="1319.57 1325.52">29</tspan><tspan x="1330.82" textLength="4.57" lengthAdjust="spacingAndGlyphs" stroke="#2f4f4f" stroke-width="0.50">1</tspan><tspan x="1334.99">8</tspan></text>
<circle cx="1325.28" cy="673.87" r="51.25" fill="#00a000" fill-opacity="0.5"/>
<text transform="scale(1.08,1)" y="663.67" font-size="10.58" fill="#2f4f4f" font-weight="normal" stroke="#2f4f4f" stroke-width="0.2" opacity="0.9"><tspan x="1217.57" textLength="4.57" lengthAdjust="spacingAndGlyphs" stroke="#2f4f4f" stroke-width="0.50">1</tspan><tspan x="1221.45 1224.17 1230.12">,78</tspan></text>
<text transform="scale(1.08,1)" y="678.27" font-size="12.75" fill="#000000" font-weight="bold"><tspan x="1218.16 1226.14">GO</tspan></text>
<text transform="scale(1.08,1)" y="690.77" font-size="10.58" fill="#2f4f4f" font-weight="normal" stroke="#2f4f4f" stroke-width="0.2" opacity="0.9"><tspan x="1215.25 1221.20 1227.14 1233.09">2686</tspan></text>
<circle cx="948.00" cy="722.83" r="26.20" fill="#9acd32" fill-opacity="0.5"/>
<text transform="scale(1.08,1)" y="712.63" font-size="10.58" fill="#2f4f4f" font-weight="normal" stroke="#2f4f4f" stroke-width="0.2" opacity="0.9"><tspan x="868.24" textLength="4.57" lengthAdjust="spacingAndGlyphs" stroke="#2f4f4f" stroke-width="0.50">1</tspan><tspan x="872.12 874.84 880.78">,55</tspan></text>
<text transform="scale(1.08,1)" y="727.23" font-size="12.75" fill="#000000" font-weight="bold"><tspan x="869.53 877.17">PN</tspan></text>
<text transform="scale(1.08,1)" y="739.73" font-size="10.58" fill="#2f4f4f" font-weight="normal" stroke="#2f4f4f" stroke-width="0.2" opacity="0.9"><tspan x="866.48" textLength="4.57" lengthAdjust="spacingAndGlyphs" stroke="#2f4f4f" stroke-width="0.50">1</tspan><tspan x="870.65 876.59 882.54">900</tspan></text>
<circle cx="1249.92" cy="720.69" r="39.40" fill="#daa520" fill-opacity="0.5"/>
<text transform="scale(1.08,1)" y="710.49" font-size="10.58" fill="#2f4f4f" font-weight="normal" stroke="#2f4f4f" stroke-width="0.2" opacity="0.9"><tspan x="1147.79" textLength="4.57" lengthAdjust="spacingAndGlyphs" stroke="#2f4f4f" stroke-width="0.50">1</tspan><tspan x="1151.67 1154.39 1160.34">,56</tspan></text>
<text transform="scale(1.08,1)" y="725.09" font-size="12.75" fill="#000000" font-weight="bold"><tspan x="1148.38 1157.07">GŠ</tspan></text>
<text transform="scale(1.08,1)" y="737.59" font-size="10.58" fill="#2f4f4f" font-weight="normal" stroke="#2f4f4f" stroke-width="0.2" opacity="0.9"><tspan x="1145.47 1151.42 1157.37 1163.31">2529</tspan></text>
<circle cx="990.24" cy="717.90" r="38.90" fill="#20b2aa" fill-opacity="0.5"/>
<text transform="scale(1.08,1)" y="707.70" font-size="10.58" fill="#2f4f4f" font-weight="normal" stroke="#2f4f4f" stroke-width="0.2" opacity="0.9"><tspan x="907.35" textLength="4.57" lengthAdjust="spacingAndGlyphs" stroke="#2f4f4f" stroke-width="0.50">1</tspan><tspan x="911.23 913.95 919.90">,57</tspan></text>
<text transform="scale(1.08,1)" y="722.30" font-size="12.75" fill="#000000" font-weight="bold"><tspan x="907.94 916.28">OK</tspan></text>
<text transform="scale(1.08,1)" y="734.80" font-size="10.58" fill="#2f4f4f" font-weight="normal" stroke="#2f4f4f" stroke-width="0.2" opacity="0.9"><tspan x="905.59" textLength="4.57" lengthAdjust="spacingAndGlyphs" stroke="#2f4f4f" stroke-width="0.50">1</tspan><tspan x="909.76 915.70 921.65">988</tspan></text>
<rect x="526.7" y="45.3" width="24.6" height="90" fill="#1e90ff"/>
<g transform="translate(534.2,90.3) rotate(90)">
<text transform="scale(1.08,1)" y="0.00" font-size="16.38" fill="#ffffff" font-weight="bold" filter="url(#shr)"><tspan x="-37.30 -26.68 -18.24 -12.54 -4.81 3.37 12.49 16.61 24.71 28.18 31.64">Osrednje...</tspan></text>
</g>
<text transform="scale(1.08,1)" y="66.80" font-size="12.46" fill="#000000" font-weight="normal" stroke="#000000" stroke-width="0.4"><tspan x="534.26 541.81 548.19 554.56 561.07 563.41 570.14 576.29 579.33 582.24">Populacija</tspan></text>
<text transform="scale(1.08,1)" y="66.80" font-size="12.46" fill="#000000" font-weight="normal" stroke="#000000" stroke-width="0.4"><tspan x="594.74">:</tspan></text>
<text transform="scale(1.08,1)" y="66.80" font-size="12.46" fill="#000000" font-weight="normal" stroke="#000000" stroke-width="0.4"><tspan x="603.00 610.01 617.02 624.02 631.03 638.04">554823</tspan></text>
<text transform="scale(1.08,1)" y="81.80" font-size="12.46" fill="#000000" font-weight="normal" stroke="#000000" stroke-width="0.4"><tspan x="523.02 529.51 536.01 539.17 541.51 548.24 554.39 556.74 563.11 569.49 576.21 582.24">7d incidenca</tspan></text>
<text transform="scale(1.08,1)" y="81.80" font-size="12.46" fill="#000000" font-weight="normal" stroke="#000000" stroke-width="0.4"><tspan x="594.74">:</tspan></text>
<text transform="scale(1.08,1)" y="81.80" font-size="12.46" fill="#000000" font-weight="normal" stroke="#000000" stroke-width="0.4"><tspan x="603.00 610.01 617.02 624.02 630.93 634.37 641.38">2664 29</tspan><tspan x="647.82" textLength="3.93" lengthAdjust="spacingAndGlyphs" stroke="#000000" stroke-width="0.70">1</tspan><tspan x="651.42 658.33 661.45 664.86 671.72 678.73 685.74 692.42">8 (+254)</tspan></text>
<text transform="scale(1.08,1)" y="96.80" font-size="12.46" fill="#000000" font-weight="normal" stroke="#000000" stroke-width="0.4"><tspan x="545.61 553.63 556.55 560.15 566.53 569.45 575.83 578.75 585.13">R (7,5,3)</tspan></text>
<text transform="scale(1.08,1)" y="96.80" font-size="12.46" fill="#000000" font-weight="normal" stroke="#000000" stroke-width="0.4"><tspan x="594.74">:</tspan></text>
<text transform="scale(1.08,1)" y="96.80" font-size="12.46" fill="#000000" font-weight="normal" stroke="#000000" stroke-width="0.4"><tspan x="602.43" textLength="3.93" lengthAdjust="spacingAndGlyphs" stroke="#000000" stroke-width="0.70">1</tspan><tspan x="605.69 608.89 615.90 622.81">,75 </tspan><tspan x="625.68" textLength="3.93" lengthAdjust="spacingAndGlyphs" stroke="#000000" stroke-width="0.70">1</tspan><tspan x="628.94 632.15 639.15 646.06">,66 </tspan><tspan x="648.93" textLength="3.93" lengthAdjust="spacingAndGlyphs" stroke="#000000" stroke-width="0.70">1</tspan><tspan x="652.19 655.40 662.40">,60</tspan></text>
<text transform="scale(1.08,1)" y="111.80" font-size="12.46" fill="#000000" font-weight="normal" stroke="#000000" stroke-width="0.4"><tspan x="537.63 545.71 549.97 552.09 561.69 568.59 572.84 575.31">Primeri </tspan><tspan x="577.93" textLength="5.07" lengthAdjust="spacingAndGlyphs" stroke="#000000" stroke-width="0.70">1</tspan><tspan x="582.24">d</tspan></text>
<text transform="scale(1.08,1)" y="111.80" font-size="12.46" fill="#000000" font-weight="normal" stroke="#000000" stroke-width="0.4"><tspan x="594.74">:</tspan></text>
<text transform="scale(1.08,1)" y="111.80" font-size="12.46" fill="#000000" font-weight="normal" stroke="#000000" stroke-width="0.4"><tspan x="602.43" textLength="3.93" lengthAdjust="spacingAndGlyphs" stroke="#000000" stroke-width="0.70">1</tspan><tspan x="606.03 613.03 620.04 626.95 630.39">736 3</tspan><tspan x="636.83" textLength="3.93" lengthAdjust="spacingAndGlyphs" stroke="#000000" stroke-width="0.70">1</tspan><tspan x="640.43 647.43 654.34 657.46 660.88">46 (+</tspan><tspan x="667.17" textLength="3.93" lengthAdjust="spacingAndGlyphs" stroke="#000000" stroke-width="0.70">1</tspan><tspan x="670.77">4</tspan><tspan x="677.20" textLength="3.93" lengthAdjust="spacingAndGlyphs" stroke="#000000" stroke-width="0.70">1</tspan><tspan x="680.80 687.48">0)</tspan></text>
<text transform="scale(1.08,1)" y="126.80" font-size="12.46" fill="#000000" font-weight="normal" stroke="#000000" stroke-width="0.4"><tspan x="534.93 543.01 547.27 549.39 558.99 565.89 570.14 572.61 575.75 582.24">Primeri 7d</tspan></text>
<text transform="scale(1.08,1)" y="126.80" font-size="12.46" fill="#000000" font-weight="normal" stroke="#000000" stroke-width="0.4"><tspan x="594.74">:</tspan></text>
<text transform="scale(1.08,1)" y="126.80" font-size="12.46" fill="#000000" font-weight="normal" stroke="#000000" stroke-width="0.4"><tspan x="603.00 610.01 617.02 624.02 630.93">9253 </tspan><tspan x="633.80" textLength="3.93" lengthAdjust="spacingAndGlyphs" stroke="#000000" stroke-width="0.70">1</tspan><tspan x="637.40">6</tspan><tspan x="643.84" textLength="3.93" lengthAdjust="spacingAndGlyphs" stroke="#000000" stroke-width="0.70">1</tspan><tspan x="647.43 654.44 661.35 664.47 667.88 674.75 681.75 688.76 695.77 702.46">90 (+6937)</tspan></text>
<text transform="scale(1.08,1)" y="69.60" font-size="11.01" fill="#2f4f4f" font-weight="normal" stroke="#2f4f4f" stroke-width="0.25"><tspan x="694.17 701.67">OS</tspan></text>
<line x1="767.5" y1="56.3" x2="770" y2="56.3" stroke="#7f9a9a" stroke-width="1"/>
<text transform="scale(1.08,1)" y="57.60" font-size="10.43" fill="#6f8585" font-weight="normal"><tspan x="716.70">3</tspan><tspan x="722.01" textLength="3.90" lengthAdjust="spacingAndGlyphs" stroke="#6f8585" stroke-width="0.30">1</tspan><tspan x="725.57 731.43">46</tspan></text>
<rect x="770.60" y="123.46" width="24.6" height="9.19" fill="#daf1da" fill-opacity="1" stroke="#ffffff" stroke-opacity="0.25" stroke-width="0.8"/>
<rect x="796.71" y="123.04" width="24.6" height="9.61" fill="#daf1da" fill-opacity="1" stroke="#ffffff" stroke-opacity="0.25" stroke-width="0.8"/>
<rect x="822.81" y="125.28" width="24.6" height="7.37" fill="#daf1da" fill-opacity="1" stroke="#ffffff" stroke-opacity="0.25" stroke-width="0.8"/>
<rect x="848.92" y="124.07" width="24.6" height="8.58" fill="#daf1da" fill-opacity="1" stroke="#ffffff" stroke-opacity="0.25" stroke-width="0.8"/>
<rect x="875.03" y="127.74" width="24.6" height="4.91" fill="#dbf0db" fill-opacity="1" stroke="#ffffff" stroke-opacity="0.25" stroke-width="0.8"/>
<rect x="901.13" y="128.64" width="24.6" height="4.01" fill="#dff1df" fill-opacity="1" stroke="#ffffff" stroke-opacity="0.25" stroke-width="0.8"/>
<rect x="927.24" y="123.26" width="24.6" height="9.39" fill="#dff1df" fill-opacity="1" stroke="#ffffff" stroke-opacity="0.25" stroke-width="0.8"/>
<rect x="953.35" y="122.15" width="24.6" height="10.50" fill="#e2f3e2" fill-opacity="1" stroke="#ffffff" stroke-opacity="0.25" stroke-width="0.8"/>
<rect x="979.46" y="125.31" width="24.6" height="7.34" fill="#e6f4e6" fill-opacity="1" stroke="#ffffff" stroke-opacity="0.25" stroke-width="0.8"/>
<rect x="1005.56" y="124.75" width="24.6" height="7.90" fill="#eaf6ea" fill-opacity="1" stroke="#ffffff" stroke-opacity="0.25" stroke-width="0.8"/>
<rect x="1031.67" y="124.21" width="24.6" height="8.44" fill="#f6fbf6" fill-opacity="1" stroke="#ffffff" stroke-opacity="0.25" stroke-width="0.8"/>
<rect x="1057.78" y="128.66" width="24.6" height="3.99" fill="#fdfafa" fill-opacity="1" stroke="#ffffff" stroke-opacity="0.25" stroke-width="0.8"/>
<rect x="1083.88" y="128.37" width="24.6" height="4.28" fill="#fcf8f8" fill-opacity="1" stroke="#ffffff" stroke-opacity="0.25" stroke-width="0.8"/>
<rect x="1109.99" y="122.39" width="24.6" height="10.26" fill="#fcf8f8" fill-opacity="1" stroke="#ffffff" stroke-opacity="0.25" stroke-width="0.8"/>
<rect x="1136.10" y="126.69" width="24.6" height="5.96" fill="#ebf6eb" fill-opacity="1" stroke="#ffffff" stroke-opacity="0.25" stroke-width="0.8"/>
<rect x="1162.20" y="125.96" width="24.6" height="6.69" fill="#eff8ef" fill-opacity="1" stroke="#ffffff" stroke-opacity="0.25" stroke-width="0.8"/>
<rect x="1188.31" y="124.63" width="24.6" height="8.02" fill="#eef8ee" fill-opacity="1" stroke="#ffffff" stroke-opacity="0.25" stroke-width="0.8"/>
<rect x="1214.42" y="126.72" width="24.6" height="5.93" fill="#e6f4e6" fill-opacity="1" stroke="#ffffff" stroke-opacity="0.25" stroke-width="0.8"/>
<rect x="1240.53" y="128.01" width="24.6" height="4.64" fill="#ebf6eb" fill-opacity="1" stroke="#ffffff" stroke-opacity="0.25" stroke-width="0.8"/>
<rect x="1266.63" y="127.25" width="24.6" height="5.40" fill="#eef7ee" fill-opacity="1" stroke="#ffffff" stroke-opacity="0.25" stroke-width="0.8"/>
<rect x="1292.74" y="119.40" width="24.6" height="13.25" fill="#f6fbf6" fill-opacity="1" stroke="#ffffff" stroke-opacity="0.25" stroke-width="0.8"/>
<rect x="1318.85" y="119.30" width="24.6" height="13.35" fill="#f1dddd" fill-opacity="1" stroke="#ffffff" stroke-opacity="0.25" stroke-width="0.8"/>
<rect x="1344.95" y="120.88" width="24.6" height="11.77" fill="#e9c6c6" fill-opacity="1" stroke="#ffffff" stroke-opacity="0.25" stroke-width="0.8"/>
<rect x="1371.06" y="118.42" width="24.6" height="14.23" fill="#e1adad" fill-opacity="1" stroke="#ffffff" stroke-opacity="0.25" stroke-width="0.8"/>
<rect x="1397.17" y="122.24" width="24.6" height="10.41" fill="#d68b8b" fill-opacity="1" stroke="#ffffff" stroke-opacity="0.25" stroke-width="0.8"/>
<rect x="1423.28" y="125.50" width="24.6" height="7.15" fill="#d48484" fill-opacity="1" stroke="#ffffff" stroke-opacity="0.25" stroke-width="0.8"/>
<rect x="1449.38" y="124.46" width="24.6" height="8.19" fill="#d47f7f" fill-opacity="1" stroke="#ffffff" stroke-opacity="0.25" stroke-width="0.8"/>
<rect x="1475.49" y="110.74" width="24.6" height="21.91" fill="#d16f6f" fill-opacity="1" stroke="#ffffff" stroke-opacity="0.25" stroke-width="0.8"/>
<rect x="1501.60" y="103.71" width="24.6" height="28.94" fill="#d36161" fill-opacity="1" stroke="#ffffff" stroke-opacity="0.25" stroke-width="0.8"/>
<rect x="1527.70" y="103.62" width="24.6" height="29.03" fill="#d14242" fill-opacity="1" stroke="#ffffff" stroke-opacity="0.25" stroke-width="0.8"/>
<rect x="1553.81" y="102.69" width="24.6" height="29.96" fill="#d33232" fill-opacity="1" stroke="#ffffff" stroke-opacity="0.25" stroke-width="0.8"/>
<rect x="1579.92" y="97.80" width="24.6" height="34.85" fill="#b01f1f" fill-opacity="1" stroke="#ffffff" stroke-opacity="0.25" stroke-width="0.8"/>
<rect x="1606.02" y="100.89" width="24.6" height="31.76" fill="#7c1111" fill-opacity="1" stroke="#ffffff" stroke-opacity="0.25" stroke-width="0.8"/>
<rect x="1632.13" y="104.39" width="24.6" height="28.26" fill="#590a0a" fill-opacity="1" stroke="#ffffff" stroke-opacity="0.25" stroke-width="0.8"/>
<rect x="1658.24" y="90.44" width="24.6" height="42.21" fill="#610909" fill-opacity="1" stroke="#ffffff" stroke-opacity="0.25" stroke-width="0.8"/>
<rect x="1684.35" y="74.80" width="24.6" height="57.85" fill="#7e0808" fill-opacity="1" stroke="#ffffff" stroke-opacity="0.25" stroke-width="0.8"/>
<rect x="1710.45" y="74.61" width="24.6" height="58.04" fill="#9e0505" fill-opacity="1" stroke="#ffffff" stroke-opacity="0.25" stroke-width="0.8"/>
<rect x="1736.56" y="81.07" width="24.6" height="51.58" fill="#bd0303" fill-opacity="1" stroke="#ffffff" stroke-opacity="0.25" stroke-width="0.8"/>
<rect x="1762.67" y="70.11" width="24.6" height="62.54" fill="#ec0000" fill-opacity="1" stroke="#ffffff" stroke-opacity="0.25" stroke-width="0.8"/>
<rect x="1788.77" y="85.94" width="24.6" height="46.71" fill="#ff1e1e" fill-opacity="1" stroke="#ffffff" stroke-opacity="0.25" stroke-width="0.8"/>
<rect x="1814.88" y="92.19" width="24.6" height="40.46" fill="#ff3e3e" fill-opacity="1" stroke="#ffffff" stroke-opacity="0.25" stroke-width="0.8"/>
<rect x="1840.99" y="56.15" width="24.6" height="76.50" fill="#ff4040" fill-opacity="1" stroke="#ffffff" stroke-opacity="0.25" stroke-width="0.8"/>
<line x1="769.5" y1="47.5" x2="769.5" y2="132.5" stroke="#7f9a9a" stroke-width="1"/>
<line x1="769" y1="132.0" x2="1867" y2="132.0" stroke="#7f9a9a" stroke-width="1"/>
<polyline points="782.9,124.0 809.0,124.7 835.1,125.4 861.2,125.1 887.3,124.9 913.4,125.2 939.5,125.1 965.6,125.2 991.8,125.3 1017.9,125.2 1044.0,125.1 1070.1,125.8 1096.2,125.9 1122.3,125.8 1148.4,126.2 1174.5,126.1 1200.6,125.9 1226.7,125.5 1252.8,124.5 1278.9,123.7 1305.0,122.9 1331.1,122.2 1357.3,121.9 1383.4,121.5 1409.5,120.2 1435.6,118.0 1461.7,115.5 1487.8,113.3 1513.9,109.8 1540.0,106.3 1566.1,103.4 1592.2,100.5 1618.3,96.4 1644.4,92.2 1670.5,89.1 1696.6,85.2 1722.8,83.1 1748.9,81.3 1775.0,76.4" fill="none" stroke="#889898" stroke-width="0.9" stroke-dasharray="3.5 1.5" opacity="0.7"/>
<text transform="scale(1.08,1)" y="120.16" font-size="11.16" fill="#2f4f4f" font-weight="normal" stroke="#2f4f4f" stroke-width="0.3"><tspan x="715.77 721.80 727.83">378</tspan></text>
<text transform="scale(1.08,1)" y="119.74" font-size="11.16" fill="#2f4f4f" font-weight="normal" stroke="#2f4f4f" stroke-width="0.3"><tspan x="739.95 745.98 752.01">395</tspan></text>
<text transform="scale(1.08,1)" y="121.98" font-size="11.16" fill="#2f4f4f" font-weight="normal" stroke="#2f4f4f" stroke-width="0.3"><tspan x="764.12 770.15 776.18">303</tspan></text>
<text transform="scale(1.08,1)" y="120.77" font-size="11.16" fill="#2f4f4f" font-weight="normal" stroke="#2f4f4f" stroke-width="0.3"><tspan x="788.29 794.32 800.35">353</tspan></text>
<text transform="scale(1.08,1)" y="124.44" font-size="11.16" fill="#2f4f4f" font-weight="normal" stroke="#2f4f4f" stroke-width="0.3"><tspan x="812.47 818.50 824.53">202</tspan></text>
<text transform="scale(1.08,1)" y="125.34" font-size="11.16" fill="#2f4f4f" font-weight="normal" stroke="#2f4f4f" stroke-width="0.3"><tspan x="837.66" textLength="4.01" lengthAdjust="spacingAndGlyphs" stroke="#2f4f4f" stroke-width="0.60">1</tspan><tspan x="841.20 847.23">65</tspan></text>
<text transform="scale(1.08,1)" y="119.96" font-size="11.16" fill="#2f4f4f" font-weight="normal" stroke="#2f4f4f" stroke-width="0.3"><tspan x="860.81 866.84 872.87">386</tspan></text>
<text transform="scale(1.08,1)" y="118.85" font-size="11.16" fill="#2f4f4f" font-weight="normal" stroke="#2f4f4f" stroke-width="0.3"><tspan x="884.99 891.02 897.05">432</tspan></text>
<text transform="scale(1.08,1)" y="122.01" font-size="11.16" fill="#2f4f4f" font-weight="normal" stroke="#2f4f4f" stroke-width="0.3"><tspan x="909.16 915.19 921.22">302</tspan></text>
<text transform="scale(1.08,1)" y="121.45" font-size="11.16" fill="#2f4f4f" font-weight="normal" stroke="#2f4f4f" stroke-width="0.3"><tspan x="933.33 939.36 945.39">325</tspan></text>
<text transform="scale(1.08,1)" y="120.91" font-size="11.16" fill="#2f4f4f" font-weight="normal" stroke="#2f4f4f" stroke-width="0.3"><tspan x="957.51 963.54 969.57">347</tspan></text>
<text transform="scale(1.08,1)" y="125.36" font-size="11.16" fill="#2f4f4f" font-weight="normal" stroke="#2f4f4f" stroke-width="0.3"><tspan x="982.70" textLength="4.01" lengthAdjust="spacingAndGlyphs" stroke="#2f4f4f" stroke-width="0.60">1</tspan><tspan x="986.24 992.27">64</tspan></text>
<text transform="scale(1.08,1)" y="125.07" font-size="11.16" fill="#2f4f4f" font-weight="normal" stroke="#2f4f4f" stroke-width="0.3"><tspan x="1006.87" textLength="4.01" lengthAdjust="spacingAndGlyphs" stroke="#2f4f4f" stroke-width="0.60">1</tspan><tspan x="1010.41 1016.44">76</tspan></text>
<text transform="scale(1.08,1)" y="119.09" font-size="11.16" fill="#2f4f4f" font-weight="normal" stroke="#2f4f4f" stroke-width="0.3"><tspan x="1030.03 1036.06 1042.08">422</tspan></text>
<text transform="scale(1.08,1)" y="123.39" font-size="11.16" fill="#2f4f4f" font-weight="normal" stroke="#2f4f4f" stroke-width="0.3"><tspan x="1054.20 1060.23 1066.26">245</tspan></text>
<text transform="scale(1.08,1)" y="122.66" font-size="11.16" fill="#2f4f4f" font-weight="normal" stroke="#2f4f4f" stroke-width="0.3"><tspan x="1078.37 1084.40 1090.43">275</tspan></text>
<text transform="scale(1.08,1)" y="121.33" font-size="11.16" fill="#2f4f4f" font-weight="normal" stroke="#2f4f4f" stroke-width="0.3"><tspan x="1102.54 1108.57 1114.60">330</tspan></text>
<text transform="scale(1.08,1)" y="123.42" font-size="11.16" fill="#2f4f4f" font-weight="normal" stroke="#2f4f4f" stroke-width="0.3"><tspan x="1126.72 1132.75 1138.78">244</tspan></text>
<text transform="scale(1.08,1)" y="124.71" font-size="11.16" fill="#2f4f4f" font-weight="normal" stroke="#2f4f4f" stroke-width="0.3"><tspan x="1153.38" textLength="4.01" lengthAdjust="spacingAndGlyphs" stroke="#2f4f4f" stroke-width="0.60">1</tspan><tspan x="1156.92">9</tspan><tspan x="1162.50" textLength="4.01" lengthAdjust="spacingAndGlyphs" stroke="#2f4f4f" stroke-width="0.60">1</tspan></text>
<text transform="scale(1.08,1)" y="123.95" font-size="11.16" fill="#2f4f4f" font-weight="normal" stroke="#2f4f4f" stroke-width="0.3"><tspan x="1175.06 1181.09 1187.12">222</tspan></text>
<text transform="scale(1.08,1)" y="116.10" font-size="11.16" fill="#2f4f4f" font-weight="normal" stroke="#2f4f4f" stroke-width="0.3"><tspan x="1199.24 1205.27 1211.30">545</tspan></text>
<text transform="scale(1.08,1)" y="116.00" font-size="11.16" fill="#2f4f4f" font-weight="normal" stroke="#2f4f4f" stroke-width="0.3"><tspan x="1223.41 1229.44 1235.47">549</tspan></text>
<text transform="scale(1.08,1)" y="117.58" font-size="11.16" fill="#2f4f4f" font-weight="normal" stroke="#2f4f4f" stroke-width="0.3"><tspan x="1247.58 1253.61 1259.64">484</tspan></text>
<text transform="scale(1.08,1)" y="115.12" font-size="11.16" fill="#2f4f4f" font-weight="normal" stroke="#2f4f4f" stroke-width="0.3"><tspan x="1271.76 1277.79 1283.82">585</tspan></text>
<text transform="scale(1.08,1)" y="118.94" font-size="11.16" fill="#2f4f4f" font-weight="normal" stroke="#2f4f4f" stroke-width="0.3"><tspan x="1295.93 1301.96 1307.99">428</tspan></text>
<text transform="scale(1.08,1)" y="122.20" font-size="11.16" fill="#2f4f4f" font-weight="normal" stroke="#2f4f4f" stroke-width="0.3"><tspan x="1320.10 1326.13 1332.16">294</tspan></text>
<text transform="scale(1.08,1)" y="121.16" font-size="11.16" fill="#2f4f4f" font-weight="normal" stroke="#2f4f4f" stroke-width="0.3"><tspan x="1344.28 1350.31 1356.34">337</tspan></text>
<text transform="scale(1.08,1)" y="107.44" font-size="11.16" fill="#2f4f4f" font-weight="normal" stroke="#2f4f4f" stroke-width="0.3"><tspan x="1369.92 1375.95">90</tspan><tspan x="1381.53" textLength="4.01" lengthAdjust="spacingAndGlyphs" stroke="#2f4f4f" stroke-width="0.60">1</tspan></text>
<text transform="scale(1.08,1)" y="100.41" font-size="11.16" fill="#2f4f4f" font-weight="normal" stroke="#2f4f4f" stroke-width="0.3"><tspan x="1392.10" textLength="4.01" lengthAdjust="spacingAndGlyphs" stroke="#2f4f4f" stroke-width="0.60">1</tspan><tspan x="1395.18" textLength="4.01" lengthAdjust="spacingAndGlyphs" stroke="#2f4f4f" stroke-width="0.60">1</tspan><tspan x="1398.72 1404.75">90</tspan></text>
<text transform="scale(1.08,1)" y="100.32" font-size="11.16" fill="#2f4f4f" font-weight="normal" stroke="#2f4f4f" stroke-width="0.3"><tspan x="1416.27" textLength="4.01" lengthAdjust="spacingAndGlyphs" stroke="#2f4f4f" stroke-width="0.60">1</tspan><tspan x="1419.36" textLength="4.01" lengthAdjust="spacingAndGlyphs" stroke="#2f4f4f" stroke-width="0.60">1</tspan><tspan x="1422.89 1428.92">94</tspan></text>
<text transform="scale(1.08,1)" y="99.39" font-size="11.16" fill="#2f4f4f" font-weight="normal" stroke="#2f4f4f" stroke-width="0.3"><tspan x="1438.97" textLength="4.01" lengthAdjust="spacingAndGlyphs" stroke="#2f4f4f" stroke-width="0.60">1</tspan><tspan x="1442.51 1448.54 1454.57">232</tspan></text>
<text transform="scale(1.08,1)" y="94.50" font-size="11.16" fill="#2f4f4f" font-weight="normal" stroke="#2f4f4f" stroke-width="0.3"><tspan x="1463.15" textLength="4.01" lengthAdjust="spacingAndGlyphs" stroke="#2f4f4f" stroke-width="0.60">1</tspan><tspan x="1466.68 1472.71 1478.74">433</tspan></text>
<text transform="scale(1.08,1)" y="97.59" font-size="11.16" fill="#2f4f4f" font-weight="normal" stroke="#2f4f4f" stroke-width="0.3"><tspan x="1487.32" textLength="4.01" lengthAdjust="spacingAndGlyphs" stroke="#2f4f4f" stroke-width="0.60">1</tspan><tspan x="1490.86 1496.89 1502.92">306</tspan></text>
<text transform="scale(1.08,1)" y="101.09" font-size="11.16" fill="#2f4f4f" font-weight="normal" stroke="#2f4f4f" stroke-width="0.3"><tspan x="1512.97" textLength="4.01" lengthAdjust="spacingAndGlyphs" stroke="#2f4f4f" stroke-width="0.60">1</tspan><tspan x="1516.05" textLength="4.01" lengthAdjust="spacingAndGlyphs" stroke="#2f4f4f" stroke-width="0.60">1</tspan><tspan x="1519.59 1525.62">62</tspan></text>
<text transform="scale(1.08,1)" y="87.14" font-size="11.16" fill="#2f4f4f" font-weight="normal" stroke="#2f4f4f" stroke-width="0.3"><tspan x="1535.67" textLength="4.01" lengthAdjust="spacingAndGlyphs" stroke="#2f4f4f" stroke-width="0.60">1</tspan><tspan x="1539.20 1545.23 1551.26">736</tspan></text>
<text transform="scale(1.08,1)" y="71.50" font-size="11.16" fill="#2f4f4f" font-weight="normal" stroke="#2f4f4f" stroke-width="0.3"><tspan x="1558.82 1564.85 1570.88 1576.91">2379</tspan></text>
<text transform="scale(1.08,1)" y="71.31" font-size="11.16" fill="#2f4f4f" font-weight="normal" stroke="#2f4f4f" stroke-width="0.3"><tspan x="1582.99 1589.02 1595.05 1601.08">2387</tspan></text>
<text transform="scale(1.08,1)" y="77.77" font-size="11.16" fill="#2f4f4f" font-weight="normal" stroke="#2f4f4f" stroke-width="0.3"><tspan x="1610.11">2</tspan><tspan x="1615.69" textLength="4.01" lengthAdjust="spacingAndGlyphs" stroke="#2f4f4f" stroke-width="0.60">1</tspan><tspan x="1619.23">2</tspan><tspan x="1624.80" textLength="4.01" lengthAdjust="spacingAndGlyphs" stroke="#2f4f4f" stroke-width="0.60">1</tspan></text>
<text transform="scale(1.08,1)" y="66.81" font-size="11.16" fill="#2f4f4f" font-weight="normal" stroke="#2f4f4f" stroke-width="0.3"><tspan x="1631.34 1637.37 1643.40 1649.43">2572</tspan></text>
<text transform="scale(1.08,1)" y="82.64" font-size="11.16" fill="#2f4f4f" font-weight="normal" stroke="#2f4f4f" stroke-width="0.3"><tspan x="1658.00" textLength="4.01" lengthAdjust="spacingAndGlyphs" stroke="#2f4f4f" stroke-width="0.60">1</tspan><tspan x="1661.54 1667.57">92</tspan><tspan x="1673.15" textLength="4.01" lengthAdjust="spacingAndGlyphs" stroke="#2f4f4f" stroke-width="0.60">1</tspan></text>
<text transform="scale(1.08,1)" y="88.89" font-size="11.16" fill="#2f4f4f" font-weight="normal" stroke="#2f4f4f" stroke-width="0.3"><tspan x="1680.70" textLength="4.01" lengthAdjust="spacingAndGlyphs" stroke="#2f4f4f" stroke-width="0.60">1</tspan><tspan x="1684.24 1690.27 1696.30">664</tspan></text>
<text transform="scale(1.08,1)" y="52.85" font-size="11.16" fill="#2f4f4f" font-weight="normal" stroke="#2f4f4f" stroke-width="0.3"><tspan x="1705.33">3</tspan><tspan x="1710.91" textLength="4.01" lengthAdjust="spacingAndGlyphs" stroke="#2f4f4f" stroke-width="0.60">1</tspan><tspan x="1714.44 1720.47">46</tspan></text>
<line x1="939.5" y1="131.3" x2="939.5" y2="134.8" stroke="#2f4f4f" stroke-width="1"/>
<text transform="scale(1.08,1)" y="143.80" font-size="10.58" fill="#2f4f4f" font-weight="normal" stroke="#2f4f4f" stroke-width="0.3"><tspan x="848.37" textLength="4.09" lengthAdjust="spacingAndGlyphs" stroke="#2f4f4f" stroke-width="0.60">1</tspan><tspan x="851.79 857.01">3.</tspan><tspan x="859.01" textLength="4.09" lengthAdjust="spacingAndGlyphs" stroke="#2f4f4f" stroke-width="0.60">1</tspan><tspan x="862.42 867.64 869.92 875.24 880.55">2.202</tspan><tspan x="885.60" textLength="4.09" lengthAdjust="spacingAndGlyphs" stroke="#2f4f4f" stroke-width="0.60">1</tspan></text>
<line x1="1122.3" y1="131.3" x2="1122.3" y2="134.8" stroke="#2f4f4f" stroke-width="1"/>
<text transform="scale(1.08,1)" y="143.80" font-size="10.58" fill="#2f4f4f" font-weight="normal" stroke="#2f4f4f" stroke-width="0.3"><tspan x="1016.55 1021.93 1027.19">20.</tspan><tspan x="1029.20" textLength="4.13" lengthAdjust="spacingAndGlyphs" stroke="#2f4f4f" stroke-width="0.60">1</tspan><tspan x="1032.69 1037.96 1040.28 1045.66 1051.04">2.202</tspan><tspan x="1056.11" textLength="4.13" lengthAdjust="spacingAndGlyphs" stroke="#2f4f4f" stroke-width="0.60">1</tspan></text>
<line x1="1305.0" y1="131.3" x2="1305.0" y2="134.8" stroke="#2f4f4f" stroke-width="1"/>
<text transform="scale(1.08,1)" y="143.80" font-size="10.58" fill="#2f4f4f" font-weight="normal" stroke="#2f4f4f" stroke-width="0.3"><tspan x="1185.84 1191.20 1196.45">27.</tspan><tspan x="1198.45" textLength="4.12" lengthAdjust="spacingAndGlyphs" stroke="#2f4f4f" stroke-width="0.60">1</tspan><tspan x="1201.92 1207.16 1209.47 1214.83 1220.18">2.202</tspan><tspan x="1225.25" textLength="4.12" lengthAdjust="spacingAndGlyphs" stroke="#2f4f4f" stroke-width="0.60">1</tspan></text>
<line x1="1487.8" y1="131.3" x2="1487.8" y2="134.8" stroke="#2f4f4f" stroke-width="1"/>
<text transform="scale(1.08,1)" y="143.80" font-size="10.58" fill="#2f4f4f" font-weight="normal" stroke="#2f4f4f" stroke-width="0.3"><tspan x="1358.84 1364.21">3.</tspan><tspan x="1366.24" textLength="4.25" lengthAdjust="spacingAndGlyphs" stroke="#2f4f4f" stroke-width="0.60">1</tspan><tspan x="1369.75 1372.17 1377.71 1383.24 1388.77">.2022</tspan></text>
<line x1="1670.5" y1="131.3" x2="1670.5" y2="134.8" stroke="#2f4f4f" stroke-width="1"/>
<text transform="scale(1.08,1)" y="143.80" font-size="10.58" fill="#2f4f4f" font-weight="normal" stroke="#2f4f4f" stroke-width="0.3"><tspan x="1526.32" textLength="4.19" lengthAdjust="spacingAndGlyphs" stroke="#2f4f4f" stroke-width="0.60">1</tspan><tspan x="1529.89 1535.20">0.</tspan><tspan x="1537.22" textLength="4.19" lengthAdjust="spacingAndGlyphs" stroke="#2f4f4f" stroke-width="0.60">1</tspan><tspan x="1540.65 1543.02 1548.47 1553.92 1559.37">.2022</tspan></text>
<line x1="1853.3" y1="131.3" x2="1853.3" y2="134.8" stroke="#2f4f4f" stroke-width="1"/>
<text transform="scale(1.08,1)" y="143.80" font-size="10.58" fill="#2f4f4f" font-weight="normal" stroke="#2f4f4f" stroke-width="0.3"><tspan x="1695.68" textLength="4.16" lengthAdjust="spacingAndGlyphs" stroke="#2f4f4f" stroke-width="0.60">1</tspan><tspan x="1699.20 1704.48">7.</tspan><tspan x="1706.50" textLength="4.16" lengthAdjust="spacingAndGlyphs" stroke="#2f4f4f" stroke-width="0.60">1</tspan><tspan x="1709.89 1712.23 1717.64 1723.05 1728.46">.2022</tspan></text>
<rect x="526.7" y="150.3" width="24.6" height="90" fill="#a000a0"/>
<g transform="translate(534.2,195.3) rotate(90)">
<text transform="scale(1.08,1)" y="0.00" font-size="16.38" fill="#ffffff" font-weight="bold" filter="url(#shr)"><tspan x="-36.89 -27.67 -19.54 -10.70 -5.03 3.10 11.23 19.36 27.49">Podravska</tspan></text>
</g>
<text transform="scale(1.08,1)" y="171.80" font-size="12.46" fill="#000000" font-weight="normal" stroke="#000000" stroke-width="0.4"><tspan x="534.26 541.81 548.19 554.56 561.07 563.41 570.14 576.29 579.33 582.24">Populacija</tspan></text>
<text transform="scale(1.08,1)" y="171.80" font-size="12.46" fill="#000000" font-weight="normal" stroke="#000000" stroke-width="0.4"><tspan x="594.74">:</tspan></text>
<text transform="scale(1.08,1)" y="171.80" font-size="12.46" fill="#000000" font-weight="normal" stroke="#000000" stroke-width="0.4"><tspan x="603.00 610.01 617.02 624.02">3265</tspan><tspan x="630.46" textLength="3.93" lengthAdjust="spacingAndGlyphs" stroke="#000000" stroke-width="0.70">1</tspan><tspan x="634.06">0</tspan></text>
<text transform="scale(1.08,1)" y="186.80" font-size="12.46" fill="#000000" font-weight="normal" stroke="#000000" stroke-width="0.4"><tspan x="523.02 529.51 536.01 539.17 541.51 548.24 554.39 556.74 563.11 569.49 576.21 582.24">7d incidenca</tspan></text>
<text transform="scale(1.08,1)" y="186.80" font-size="12.46" fill="#000000" font-weight="normal" stroke="#000000" stroke-width="0.4"><tspan x="594.74">:</tspan></text>
<text transform="scale(1.08,1)" y="186.80" font-size="12.46" fill="#000000" font-weight="normal" stroke="#000000" stroke-width="0.4"><tspan x="602.43" textLength="3.93" lengthAdjust="spacingAndGlyphs" stroke="#000000" stroke-width="0.70">1</tspan><tspan x="606.03 613.03 620.04 626.95">558 </tspan><tspan x="629.82" textLength="3.93" lengthAdjust="spacingAndGlyphs" stroke="#000000" stroke-width="0.70">1</tspan><tspan x="633.42 640.43 647.43 654.34 657.46 660.88">736 (+</tspan><tspan x="667.17" textLength="3.93" lengthAdjust="spacingAndGlyphs" stroke="#000000" stroke-width="0.70">1</tspan><tspan x="670.77 677.77 684.46">78)</tspan></text>
<text transform="scale(1.08,1)" y="201.80" font-size="12.46" fill="#000000" font-weight="normal" stroke="#000000" stroke-width="0.4"><tspan x="545.61 553.63 556.55 560.15 566.53 569.45 575.83 578.75 585.13">R (7,5,3)</tspan></text>
<text transform="scale(1.08,1)" y="201.80" font-size="12.46" fill="#000000" font-weight="normal" stroke="#000000" stroke-width="0.4"><tspan x="594.74">:</tspan></text>
<text transform="scale(1.08,1)" y="201.80" font-size="12.46" fill="#000000" font-weight="normal" stroke="#000000" stroke-width="0.4"><tspan x="603.00 609.67">2,</tspan><tspan x="612.30" textLength="3.93" lengthAdjust="spacingAndGlyphs" stroke="#000000" stroke-width="0.70">1</tspan><tspan x="615.90 622.81 626.25 632.92">2 2,</tspan><tspan x="635.56" textLength="3.93" lengthAdjust="spacingAndGlyphs" stroke="#000000" stroke-width="0.70">1</tspan><tspan x="639.15 646.06 649.50 656.18 659.38 666.39">8 2,32</tspan></text>
<text transform="scale(1.08,1)" y="216.80" font-size="12.46" fill="#000000" font-weight="normal" stroke="#000000" stroke-width="0.4"><tspan x="537.63 545.71 549.97 552.09 561.69 568.59 572.84 575.31">Primeri </tspan><tspan x="577.93" textLength="5.07" lengthAdjust="spacingAndGlyphs" stroke="#000000" stroke-width="0.70">1</tspan><tspan x="582.24">d</tspan></text>
<text transform="scale(1.08,1)" y="216.80" font-size="12.46" fill="#000000" font-weight="normal" stroke="#000000" stroke-width="0.4"><tspan x="594.74">:</tspan></text>
<text transform="scale(1.08,1)" y="216.80" font-size="12.46" fill="#000000" font-weight="normal" stroke="#000000" stroke-width="0.4"><tspan x="603.00 610.01 617.02 623.93">452 </tspan><tspan x="626.80" textLength="3.93" lengthAdjust="spacingAndGlyphs" stroke="#000000" stroke-width="0.70">1</tspan><tspan x="630.39 637.40 644.41 651.32 654.44 657.85 664.71 671.72 678.73 685.41">034 (+582)</tspan></text>
<text transform="scale(1.08,1)" y="231.80" font-size="12.46" fill="#000000" font-weight="normal" stroke="#000000" stroke-width="0.4"><tspan x="534.93 543.01 547.27 549.39 558.99 565.89 570.14 572.61 575.75 582.24">Primeri 7d</tspan></text>
<text transform="scale(1.08,1)" y="231.80" font-size="12.46" fill="#000000" font-weight="normal" stroke="#000000" stroke-width="0.4"><tspan x="594.74">:</tspan></text>
<text transform="scale(1.08,1)" y="231.80" font-size="12.46" fill="#000000" font-weight="normal" stroke="#000000" stroke-width="0.4"><tspan x="603.00 610.01 617.02 624.02 630.93 634.37 641.38 648.39 655.40 662.31 665.43 668.84 675.70 682.71 689.72 696.72 703.41">2669 5669 (+3000)</tspan></text>
<text transform="scale(1.08,1)" y="174.60" font-size="11.01" fill="#2f4f4f" font-weight="normal" stroke="#2f4f4f" stroke-width="0.25"><tspan x="694.78 701.37">PD</tspan></text>
<line x1="767.5" y1="161.3" x2="770" y2="161.3" stroke="#7f9a9a" stroke-width="1"/>
<text transform="scale(1.08,1)" y="162.60" font-size="10.43" fill="#6f8585" font-weight="normal"><tspan x="716.14" textLength="3.90" lengthAdjust="spacingAndGlyphs" stroke="#6f8585" stroke-width="0.30">1</tspan><tspan x="719.70 725.57 731.43">034</tspan></text>
<rect x="770.60" y="213.01" width="24.6" height="24.64" fill="#c8efc8" fill-opacity="1" stroke="#ffffff" stroke-opacity="0.25" stroke-width="0.8"/>
<rect x="796.71" y="215.45" width="24.6" height="22.20" fill="#ccefcc" fill-opacity="1" stroke="#ffffff" stroke-opacity="0.25" stroke-width="0.8"/>
<rect x="822.81" y="223.08" width="24.6" height="14.57" fill="#d1f0d1" fill-opacity="1" stroke="#ffffff" stroke-opacity="0.25" stroke-width="0.8"/>
<rect x="848.92" y="221.97" width="24.6" height="15.68" fill="#d4f0d4" fill-opacity="1" stroke="#ffffff" stroke-opacity="0.25" stroke-width="0.8"/>
<rect x="875.03" y="228.33" width="24.6" height="9.32" fill="#d2eed2" fill-opacity="1" stroke="#ffffff" stroke-opacity="0.25" stroke-width="0.8"/>
<rect x="901.13" y="223.67" width="24.6" height="13.98" fill="#d6f0d6" fill-opacity="1" stroke="#ffffff" stroke-opacity="0.25" stroke-width="0.8"/>
<rect x="927.24" y="218.93" width="24.6" height="18.72" fill="#daf1da" fill-opacity="1" stroke="#ffffff" stroke-opacity="0.25" stroke-width="0.8"/>
<rect x="953.35" y="222.93" width="24.6" height="14.72" fill="#daf1da" fill-opacity="1" stroke="#ffffff" stroke-opacity="0.25" stroke-width="0.8"/>
<rect x="979.46" y="219.38" width="24.6" height="18.27" fill="#d7efd7" fill-opacity="1" stroke="#ffffff" stroke-opacity="0.25" stroke-width="0.8"/>
<rect x="1005.56" y="224.26" width="24.6" height="13.39" fill="#d7efd7" fill-opacity="1" stroke="#ffffff" stroke-opacity="0.25" stroke-width="0.8"/>
<rect x="1031.67" y="222.34" width="24.6" height="15.31" fill="#dbf0db" fill-opacity="1" stroke="#ffffff" stroke-opacity="0.25" stroke-width="0.8"/>
<rect x="1057.78" y="227.00" width="24.6" height="10.65" fill="#e9f6e9" fill-opacity="1" stroke="#ffffff" stroke-opacity="0.25" stroke-width="0.8"/>
<rect x="1083.88" y="227.29" width="24.6" height="10.36" fill="#edf8ed" fill-opacity="1" stroke="#ffffff" stroke-opacity="0.25" stroke-width="0.8"/>
<rect x="1109.99" y="223.96" width="24.6" height="13.69" fill="#ddf1dd" fill-opacity="1" stroke="#ffffff" stroke-opacity="0.25" stroke-width="0.8"/>
<rect x="1136.10" y="221.37" width="24.6" height="16.28" fill="#ecf7ec" fill-opacity="1" stroke="#ffffff" stroke-opacity="0.25" stroke-width="0.8"/>
<rect x="1162.20" y="225.29" width="24.6" height="12.36" fill="#e9f5e9" fill-opacity="1" stroke="#ffffff" stroke-opacity="0.25" stroke-width="0.8"/>
<rect x="1188.31" y="222.26" width="24.6" height="15.39" fill="#eef8ee" fill-opacity="1" stroke="#ffffff" stroke-opacity="0.25" stroke-width="0.8"/>
<rect x="1214.42" y="226.26" width="24.6" height="11.39" fill="#e8f5e8" fill-opacity="1" stroke="#ffffff" stroke-opacity="0.25" stroke-width="0.8"/>
<rect x="1240.53" y="231.73" width="24.6" height="5.92" fill="#def0de" fill-opacity="1" stroke="#ffffff" stroke-opacity="0.25" stroke-width="0.8"/>
<rect x="1266.63" y="227.81" width="24.6" height="9.84" fill="#e2f2e2" fill-opacity="1" stroke="#ffffff" stroke-opacity="0.25" stroke-width="0.8"/>
<rect x="1292.74" y="222.93" width="24.6" height="14.72" fill="#ecf6ec" fill-opacity="1" stroke="#ffffff" stroke-opacity="0.25" stroke-width="0.8"/>
<rect x="1318.85" y="223.15" width="24.6" height="14.50" fill="#e6f4e6" fill-opacity="1" stroke="#ffffff" stroke-opacity="0.25" stroke-width="0.8"/>
<rect x="1344.95" y="220.71" width="24.6" height="16.94" fill="#f9fcf9" fill-opacity="1" stroke="#ffffff" stroke-opacity="0.25" stroke-width="0.8"/>
<rect x="1371.06" y="221.45" width="24.6" height="16.20" fill="#f6fbf6" fill-opacity="1" stroke="#ffffff" stroke-opacity="0.25" stroke-width="0.8"/>
<rect x="1397.17" y="220.41" width="24.6" height="17.24" fill="#fbf5f5" fill-opacity="1" stroke="#ffffff" stroke-opacity="0.25" stroke-width="0.8"/>
<rect x="1423.28" y="229.22" width="24.6" height="8.43" fill="#f4e5e5" fill-opacity="1" stroke="#ffffff" stroke-opacity="0.25" stroke-width="0.8"/>
<rect x="1449.38" y="225.07" width="24.6" height="12.58" fill="#f1dddd" fill-opacity="1" stroke="#ffffff" stroke-opacity="0.25" stroke-width="0.8"/>
<rect x="1475.49" y="211.09" width="24.6" height="26.56" fill="#e9c6c6" fill-opacity="1" stroke="#ffffff" stroke-opacity="0.25" stroke-width="0.8"/>
<rect x="1501.60" y="216.64" width="24.6" height="21.01" fill="#e2b2b2" fill-opacity="1" stroke="#ffffff" stroke-opacity="0.25" stroke-width="0.8"/>
<rect x="1527.70" y="207.98" width="24.6" height="29.67" fill="#dfa4a4" fill-opacity="1" stroke="#ffffff" stroke-opacity="0.25" stroke-width="0.8"/>
<rect x="1553.81" y="210.28" width="24.6" height="27.37" fill="#d98d8d" fill-opacity="1" stroke="#ffffff" stroke-opacity="0.25" stroke-width="0.8"/>
<rect x="1579.92" y="204.58" width="24.6" height="33.07" fill="#d77e7e" fill-opacity="1" stroke="#ffffff" stroke-opacity="0.25" stroke-width="0.8"/>
<rect x="1606.02" y="210.13" width="24.6" height="27.52" fill="#d15d5d" fill-opacity="1" stroke="#ffffff" stroke-opacity="0.25" stroke-width="0.8"/>
<rect x="1632.13" y="212.27" width="24.6" height="25.38" fill="#ce4c4c" fill-opacity="1" stroke="#ffffff" stroke-opacity="0.25" stroke-width="0.8"/>
<rect x="1658.24" y="204.21" width="24.6" height="33.44" fill="#d76666" fill-opacity="1" stroke="#ffffff" stroke-opacity="0.25" stroke-width="0.8"/>
<rect x="1684.35" y="182.53" width="24.6" height="55.12" fill="#d33a3a" fill-opacity="1" stroke="#ffffff" stroke-opacity="0.25" stroke-width="0.8"/>
<rect x="1710.45" y="193.70" width="24.6" height="43.95" fill="#d84949" fill-opacity="1" stroke="#ffffff" stroke-opacity="0.25" stroke-width="0.8"/>
<rect x="1736.56" y="177.87" width="24.6" height="59.78" fill="#da3232" fill-opacity="1" stroke="#ffffff" stroke-opacity="0.25" stroke-width="0.8"/>
<rect x="1762.67" y="177.80" width="24.6" height="59.85" fill="#df3434" fill-opacity="1" stroke="#ffffff" stroke-opacity="0.25" stroke-width="0.8"/>
<rect x="1788.77" y="182.01" width="24.6" height="55.64" fill="#e43b3b" fill-opacity="1" stroke="#ffffff" stroke-opacity="0.25" stroke-width="0.8"/>
<rect x="1814.88" y="169.07" width="24.6" height="68.58" fill="#e71f1f" fill-opacity="1" stroke="#ffffff" stroke-opacity="0.25" stroke-width="0.8"/>
<rect x="1840.99" y="161.15" width="24.6" height="76.50" fill="#cf1111" fill-opacity="1" stroke="#ffffff" stroke-opacity="0.25" stroke-width="0.8"/>
<line x1="769.5" y1="152.5" x2="769.5" y2="237.5" stroke="#7f9a9a" stroke-width="1"/>
<line x1="769" y1="237.0" x2="1867" y2="237.0" stroke="#7f9a9a" stroke-width="1"/>
<polyline points="782.9,218.4 809.0,220.4 835.1,220.9 861.2,220.6 887.3,222.0 913.4,222.6 939.5,222.8 965.6,222.8 991.8,222.6 1017.9,223.2 1044.0,223.9 1070.1,223.7 1096.2,224.5 1122.3,224.2 1148.4,224.8 1174.5,225.5 1200.6,225.5 1226.7,225.4 1252.8,225.6 1278.9,225.0 1305.0,224.9 1331.1,224.0 1357.3,223.7 1383.4,223.3 1409.5,221.6 1435.6,220.7 1461.7,218.8 1487.8,217.2 1513.9,215.0 1540.0,212.3 1566.1,210.4 1592.2,209.4 1618.3,204.6 1644.4,202.5 1670.5,197.9 1696.6,194.1 1722.8,190.1 1748.9,183.9 1775.0,177.7" fill="none" stroke="#889898" stroke-width="0.9" stroke-dasharray="3.5 1.5" opacity="0.7"/>
<text transform="scale(1.08,1)" y="209.71" font-size="11.16" fill="#2f4f4f" font-weight="normal" stroke="#2f4f4f" stroke-width="0.3"><tspan x="715.77 721.80 727.83">333</tspan></text>
<text transform="scale(1.08,1)" y="212.15" font-size="11.16" fill="#2f4f4f" font-weight="normal" stroke="#2f4f4f" stroke-width="0.3"><tspan x="739.95 745.98 752.01">300</tspan></text>
<text transform="scale(1.08,1)" y="219.78" font-size="11.16" fill="#2f4f4f" font-weight="normal" stroke="#2f4f4f" stroke-width="0.3"><tspan x="765.14" textLength="4.01" lengthAdjust="spacingAndGlyphs" stroke="#2f4f4f" stroke-width="0.60">1</tspan><tspan x="768.68 774.71">97</tspan></text>
<text transform="scale(1.08,1)" y="218.67" font-size="11.16" fill="#2f4f4f" font-weight="normal" stroke="#2f4f4f" stroke-width="0.3"><tspan x="789.77">2</tspan><tspan x="795.34" textLength="4.01" lengthAdjust="spacingAndGlyphs" stroke="#2f4f4f" stroke-width="0.60">1</tspan><tspan x="798.88">2</tspan></text>
<text transform="scale(1.08,1)" y="225.03" font-size="11.16" fill="#2f4f4f" font-weight="normal" stroke="#2f4f4f" stroke-width="0.3"><tspan x="813.49" textLength="4.01" lengthAdjust="spacingAndGlyphs" stroke="#2f4f4f" stroke-width="0.60">1</tspan><tspan x="817.02 823.05">26</tspan></text>
<text transform="scale(1.08,1)" y="220.37" font-size="11.16" fill="#2f4f4f" font-weight="normal" stroke="#2f4f4f" stroke-width="0.3"><tspan x="837.66" textLength="4.01" lengthAdjust="spacingAndGlyphs" stroke="#2f4f4f" stroke-width="0.60">1</tspan><tspan x="841.20 847.23">89</tspan></text>
<text transform="scale(1.08,1)" y="215.63" font-size="11.16" fill="#2f4f4f" font-weight="normal" stroke="#2f4f4f" stroke-width="0.3"><tspan x="860.81 866.84 872.87">253</tspan></text>
<text transform="scale(1.08,1)" y="219.63" font-size="11.16" fill="#2f4f4f" font-weight="normal" stroke="#2f4f4f" stroke-width="0.3"><tspan x="886.01" textLength="4.01" lengthAdjust="spacingAndGlyphs" stroke="#2f4f4f" stroke-width="0.60">1</tspan><tspan x="889.54 895.57">99</tspan></text>
<text transform="scale(1.08,1)" y="216.08" font-size="11.16" fill="#2f4f4f" font-weight="normal" stroke="#2f4f4f" stroke-width="0.3"><tspan x="909.16 915.19 921.22">247</tspan></text>
<text transform="scale(1.08,1)" y="220.96" font-size="11.16" fill="#2f4f4f" font-weight="normal" stroke="#2f4f4f" stroke-width="0.3"><tspan x="935.82" textLength="4.01" lengthAdjust="spacingAndGlyphs" stroke="#2f4f4f" stroke-width="0.60">1</tspan><tspan x="939.36">8</tspan><tspan x="944.94" textLength="4.01" lengthAdjust="spacingAndGlyphs" stroke="#2f4f4f" stroke-width="0.60">1</tspan></text>
<text transform="scale(1.08,1)" y="219.04" font-size="11.16" fill="#2f4f4f" font-weight="normal" stroke="#2f4f4f" stroke-width="0.3"><tspan x="957.51 963.54 969.57">207</tspan></text>
<text transform="scale(1.08,1)" y="223.70" font-size="11.16" fill="#2f4f4f" font-weight="normal" stroke="#2f4f4f" stroke-width="0.3"><tspan x="982.70" textLength="4.01" lengthAdjust="spacingAndGlyphs" stroke="#2f4f4f" stroke-width="0.60">1</tspan><tspan x="986.24 992.27">44</tspan></text>
<text transform="scale(1.08,1)" y="223.99" font-size="11.16" fill="#2f4f4f" font-weight="normal" stroke="#2f4f4f" stroke-width="0.3"><tspan x="1006.87" textLength="4.01" lengthAdjust="spacingAndGlyphs" stroke="#2f4f4f" stroke-width="0.60">1</tspan><tspan x="1010.41 1016.44">40</tspan></text>
<text transform="scale(1.08,1)" y="220.66" font-size="11.16" fill="#2f4f4f" font-weight="normal" stroke="#2f4f4f" stroke-width="0.3"><tspan x="1031.04" textLength="4.01" lengthAdjust="spacingAndGlyphs" stroke="#2f4f4f" stroke-width="0.60">1</tspan><tspan x="1034.58 1040.61">85</tspan></text>
<text transform="scale(1.08,1)" y="218.07" font-size="11.16" fill="#2f4f4f" font-weight="normal" stroke="#2f4f4f" stroke-width="0.3"><tspan x="1054.20 1060.23 1066.26">220</tspan></text>
<text transform="scale(1.08,1)" y="221.99" font-size="11.16" fill="#2f4f4f" font-weight="normal" stroke="#2f4f4f" stroke-width="0.3"><tspan x="1079.39" textLength="4.01" lengthAdjust="spacingAndGlyphs" stroke="#2f4f4f" stroke-width="0.60">1</tspan><tspan x="1082.93 1088.96">67</tspan></text>
<text transform="scale(1.08,1)" y="218.96" font-size="11.16" fill="#2f4f4f" font-weight="normal" stroke="#2f4f4f" stroke-width="0.3"><tspan x="1102.54 1108.57 1114.60">208</tspan></text>
<text transform="scale(1.08,1)" y="222.96" font-size="11.16" fill="#2f4f4f" font-weight="normal" stroke="#2f4f4f" stroke-width="0.3"><tspan x="1127.74" textLength="4.01" lengthAdjust="spacingAndGlyphs" stroke="#2f4f4f" stroke-width="0.60">1</tspan><tspan x="1131.27 1137.30">54</tspan></text>
<text transform="scale(1.08,1)" y="228.43" font-size="11.16" fill="#2f4f4f" font-weight="normal" stroke="#2f4f4f" stroke-width="0.3"><tspan x="1153.91 1159.94">80</tspan></text>
<text transform="scale(1.08,1)" y="224.51" font-size="11.16" fill="#2f4f4f" font-weight="normal" stroke="#2f4f4f" stroke-width="0.3"><tspan x="1176.08" textLength="4.01" lengthAdjust="spacingAndGlyphs" stroke="#2f4f4f" stroke-width="0.60">1</tspan><tspan x="1179.62 1185.65">33</tspan></text>
<text transform="scale(1.08,1)" y="219.63" font-size="11.16" fill="#2f4f4f" font-weight="normal" stroke="#2f4f4f" stroke-width="0.3"><tspan x="1200.26" textLength="4.01" lengthAdjust="spacingAndGlyphs" stroke="#2f4f4f" stroke-width="0.60">1</tspan><tspan x="1203.79 1209.82">99</tspan></text>
<text transform="scale(1.08,1)" y="219.85" font-size="11.16" fill="#2f4f4f" font-weight="normal" stroke="#2f4f4f" stroke-width="0.3"><tspan x="1224.43" textLength="4.01" lengthAdjust="spacingAndGlyphs" stroke="#2f4f4f" stroke-width="0.60">1</tspan><tspan x="1227.97 1234.00">96</tspan></text>
<text transform="scale(1.08,1)" y="217.41" font-size="11.16" fill="#2f4f4f" font-weight="normal" stroke="#2f4f4f" stroke-width="0.3"><tspan x="1247.58 1253.61 1259.64">229</tspan></text>
<text transform="scale(1.08,1)" y="218.15" font-size="11.16" fill="#2f4f4f" font-weight="normal" stroke="#2f4f4f" stroke-width="0.3"><tspan x="1273.23">2</tspan><tspan x="1278.81" textLength="4.01" lengthAdjust="spacingAndGlyphs" stroke="#2f4f4f" stroke-width="0.60">1</tspan><tspan x="1282.34">9</tspan></text>
<text transform="scale(1.08,1)" y="217.11" font-size="11.16" fill="#2f4f4f" font-weight="normal" stroke="#2f4f4f" stroke-width="0.3"><tspan x="1295.93 1301.96 1307.99">233</tspan></text>
<text transform="scale(1.08,1)" y="225.92" font-size="11.16" fill="#2f4f4f" font-weight="normal" stroke="#2f4f4f" stroke-width="0.3"><tspan x="1322.60" textLength="4.01" lengthAdjust="spacingAndGlyphs" stroke="#2f4f4f" stroke-width="0.60">1</tspan><tspan x="1325.68" textLength="4.01" lengthAdjust="spacingAndGlyphs" stroke="#2f4f4f" stroke-width="0.60">1</tspan><tspan x="1329.22">4</tspan></text>
<text transform="scale(1.08,1)" y="221.77" font-size="11.16" fill="#2f4f4f" font-weight="normal" stroke="#2f4f4f" stroke-width="0.3"><tspan x="1345.30" textLength="4.01" lengthAdjust="spacingAndGlyphs" stroke="#2f4f4f" stroke-width="0.60">1</tspan><tspan x="1348.83 1354.86">70</tspan></text>
<text transform="scale(1.08,1)" y="207.79" font-size="11.16" fill="#2f4f4f" font-weight="normal" stroke="#2f4f4f" stroke-width="0.3"><tspan x="1368.45 1374.48 1380.51">359</tspan></text>
<text transform="scale(1.08,1)" y="213.34" font-size="11.16" fill="#2f4f4f" font-weight="normal" stroke="#2f4f4f" stroke-width="0.3"><tspan x="1392.62 1398.65 1404.68">284</tspan></text>
<text transform="scale(1.08,1)" y="204.68" font-size="11.16" fill="#2f4f4f" font-weight="normal" stroke="#2f4f4f" stroke-width="0.3"><tspan x="1418.27 1424.30">40</tspan><tspan x="1429.87" textLength="4.01" lengthAdjust="spacingAndGlyphs" stroke="#2f4f4f" stroke-width="0.60">1</tspan></text>
<text transform="scale(1.08,1)" y="206.98" font-size="11.16" fill="#2f4f4f" font-weight="normal" stroke="#2f4f4f" stroke-width="0.3"><tspan x="1440.97 1447.00 1453.03">370</tspan></text>
<text transform="scale(1.08,1)" y="201.28" font-size="11.16" fill="#2f4f4f" font-weight="normal" stroke="#2f4f4f" stroke-width="0.3"><tspan x="1465.14 1471.17 1477.20">447</tspan></text>
<text transform="scale(1.08,1)" y="206.83" font-size="11.16" fill="#2f4f4f" font-weight="normal" stroke="#2f4f4f" stroke-width="0.3"><tspan x="1489.32 1495.34 1501.37">372</tspan></text>
<text transform="scale(1.08,1)" y="208.97" font-size="11.16" fill="#2f4f4f" font-weight="normal" stroke="#2f4f4f" stroke-width="0.3"><tspan x="1513.49 1519.52 1525.55">343</tspan></text>
<text transform="scale(1.08,1)" y="200.91" font-size="11.16" fill="#2f4f4f" font-weight="normal" stroke="#2f4f4f" stroke-width="0.3"><tspan x="1537.66 1543.69 1549.72">452</tspan></text>
<text transform="scale(1.08,1)" y="179.23" font-size="11.16" fill="#2f4f4f" font-weight="normal" stroke="#2f4f4f" stroke-width="0.3"><tspan x="1561.83 1567.86 1573.89">745</tspan></text>
<text transform="scale(1.08,1)" y="190.40" font-size="11.16" fill="#2f4f4f" font-weight="normal" stroke="#2f4f4f" stroke-width="0.3"><tspan x="1586.01 1592.04 1598.07">594</tspan></text>
<text transform="scale(1.08,1)" y="174.57" font-size="11.16" fill="#2f4f4f" font-weight="normal" stroke="#2f4f4f" stroke-width="0.3"><tspan x="1610.18 1616.21 1622.24">808</tspan></text>
<text transform="scale(1.08,1)" y="174.50" font-size="11.16" fill="#2f4f4f" font-weight="normal" stroke="#2f4f4f" stroke-width="0.3"><tspan x="1634.35 1640.38 1646.41">809</tspan></text>
<text transform="scale(1.08,1)" y="178.71" font-size="11.16" fill="#2f4f4f" font-weight="normal" stroke="#2f4f4f" stroke-width="0.3"><tspan x="1658.53 1664.56 1670.59">752</tspan></text>
<text transform="scale(1.08,1)" y="165.77" font-size="11.16" fill="#2f4f4f" font-weight="normal" stroke="#2f4f4f" stroke-width="0.3"><tspan x="1682.70 1688.73 1694.76">927</tspan></text>
<text transform="scale(1.08,1)" y="157.85" font-size="11.16" fill="#2f4f4f" font-weight="normal" stroke="#2f4f4f" stroke-width="0.3"><tspan x="1704.88" textLength="4.01" lengthAdjust="spacingAndGlyphs" stroke="#2f4f4f" stroke-width="0.60">1</tspan><tspan x="1708.42 1714.44 1720.47">034</tspan></text>
<line x1="939.5" y1="236.3" x2="939.5" y2="239.8" stroke="#2f4f4f" stroke-width="1"/>
<text transform="scale(1.08,1)" y="248.80" font-size="10.58" fill="#2f4f4f" font-weight="normal" stroke="#2f4f4f" stroke-width="0.3"><tspan x="848.37" textLength="4.09" lengthAdjust="spacingAndGlyphs" stroke="#2f4f4f" stroke-width="0.60">1</tspan><tspan x="851.79 857.01">3.</tspan><tspan x="859.01" textLength="4.09" lengthAdjust="spacingAndGlyphs" stroke="#2f4f4f" stroke-width="0.60">1</tspan><tspan x="862.42 867.64 869.92 875.24 880.55">2.202</tspan><tspan x="885.60" textLength="4.09" lengthAdjust="spacingAndGlyphs" stroke="#2f4f4f" stroke-width="0.60">1</tspan></text>
<line x1="1122.3" y1="236.3" x2="1122.3" y2="239.8" stroke="#2f4f4f" stroke-width="1"/>
<text transform="scale(1.08,1)" y="248.80" font-size="10.58" fill="#2f4f4f" font-weight="normal" stroke="#2f4f4f" stroke-width="0.3"><tspan x="1016.55 1021.93 1027.19">20.</tspan><tspan x="1029.20" textLength="4.13" lengthAdjust="spacingAndGlyphs" stroke="#2f4f4f" stroke-width="0.60">1</tspan><tspan x="1032.69 1037.96 1040.28 1045.66 1051.04">2.202</tspan><tspan x="1056.11" textLength="4.13" lengthAdjust="spacingAndGlyphs" stroke="#2f4f4f" stroke-width="0.60">1</tspan></text>
<line x1="1305.0" y1="236.3" x2="1305.0" y2="239.8" stroke="#2f4f4f" stroke-width="1"/>
<text transform="scale(1.08,1)" y="248.80" font-size="10.58" fill="#2f4f4f" font-weight="normal" stroke="#2f4f4f" stroke-width="0.3"><tspan x="1185.84 1191.20 1196.45">27.</tspan><tspan x="1198.45" textLength="4.12" lengthAdjust="spacingAndGlyphs" stroke="#2f4f4f" stroke-width="0.60">1</tspan><tspan x="1201.92 1207.16 1209.47 1214.83 1220.18">2.202</tspan><tspan x="1225.25" textLength="4.12" lengthAdjust="spacingAndGlyphs" stroke="#2f4f4f" stroke-width="0.60">1</tspan></text>
<line x1="1487.8" y1="236.3" x2="1487.8" y2="239.8" stroke="#2f4f4f" stroke-width="1"/>
<text transform="scale(1.08,1)" y="248.80" font-size="10.58" fill="#2f4f4f" font-weight="normal" stroke="#2f4f4f" stroke-width="0.3"><tspan x="1358.84 1364.21">3.</tspan><tspan x="1366.24" textLength="4.25" lengthAdjust="spacingAndGlyphs" stroke="#2f4f4f" stroke-width="0.60">1</tspan><tspan x="1369.75 1372.17 1377.71 1383.24 1388.77">.2022</tspan></text>
<line x1="1670.5" y1="236.3" x2="1670.5" y2="239.8" stroke="#2f4f4f" stroke-width="1"/>
<text transform="scale(1.08,1)" y="248.80" font-size="10.58" fill="#2f4f4f" font-weight="normal" stroke="#2f4f4f" stroke-width="0.3"><tspan x="1526.32" textLength="4.19" lengthAdjust="spacingAndGlyphs" stroke="#2f4f4f" stroke-width="0.60">1</tspan><tspan x="1529.89 1535.20">0.</tspan><tspan x="1537.22" textLength="4.19" lengthAdjust="spacingAndGlyphs" stroke="#2f4f4f" stroke-width="0.60">1</tspan><tspan x="1540.65 1543.02 1548.47 1553.92 1559.37">.2022</tspan></text>
<line x1="1853.3" y1="236.3" x2="1853.3" y2="239.8" stroke="#2f4f4f" stroke-width="1"/>
<text transform="scale(1.08,1)" y="248.80" font-size="10.58" fill="#2f4f4f" font-weight="normal" stroke="#2f4f4f" stroke-width="0.3"><tspan x="1695.68" textLength="4.16" lengthAdjust="spacingAndGlyphs" stroke="#2f4f4f" stroke-width="0.60">1</tspan><tspan x="1699.20 1704.48">7.</tspan><tspan x="1706.50" textLength="4.16" lengthAdjust="spacingAndGlyphs" stroke="#2f4f4f" stroke-width="0.60">1</tspan><tspan x="1709.89 1712.23 1717.64 1723.05 1728.46">.2022</tspan></text>
<rect x="526.7" y="255.3" width="24.6" height="90" fill="#ff7f50"/>
<g transform="translate(534.2,300.3) rotate(90)">
<text transform="scale(1.08,1)" y="0.00" font-size="16.38" fill="#ffffff" font-weight="bold" filter="url(#shr)"><tspan x="-34.85 -24.84 -16.39 -8.24 -5.10 4.24 8.57 17.03 25.48">Savinjska</tspan></text>
</g>
<text transform="scale(1.08,1)" y="276.80" font-size="12.46" fill="#000000" font-weight="normal" stroke="#000000" stroke-width="0.4"><tspan x="534.26 541.81 548.19 554.56 561.07 563.41 570.14 576.29 579.33 582.24">Populacija</tspan></text>
<text transform="scale(1.08,1)" y="276.80" font-size="12.46" fill="#000000" font-weight="normal" stroke="#000000" stroke-width="0.4"><tspan x="594.74">:</tspan></text>
<text transform="scale(1.08,1)" y="276.80" font-size="12.46" fill="#000000" font-weight="normal" stroke="#000000" stroke-width="0.4"><tspan x="603.00 610.01 617.02 624.02 631.03 638.04">258345</tspan></text>
<text transform="scale(1.08,1)" y="291.80" font-size="12.46" fill="#000000" font-weight="normal" stroke="#000000" stroke-width="0.4"><tspan x="523.02 529.51 536.01 539.17 541.51 548.24 554.39 556.74 563.11 569.49 576.21 582.24">7d incidenca</tspan></text>
<text transform="scale(1.08,1)" y="291.80" font-size="12.46" fill="#000000" font-weight="normal" stroke="#000000" stroke-width="0.4"><tspan x="594.74">:</tspan></text>
<text transform="scale(1.08,1)" y="291.80" font-size="12.46" fill="#000000" font-weight="normal" stroke="#000000" stroke-width="0.4"><tspan x="603.00 610.01 617.02 624.02 630.93 634.37 641.38">2309 24</tspan><tspan x="647.82" textLength="3.93" lengthAdjust="spacingAndGlyphs" stroke="#000000" stroke-width="0.70">1</tspan><tspan x="651.42 658.33 661.45 664.86">7 (+</tspan><tspan x="671.15" textLength="3.93" lengthAdjust="spacingAndGlyphs" stroke="#000000" stroke-width="0.70">1</tspan><tspan x="674.75 681.75 688.44">08)</tspan></text>
<text transform="scale(1.08,1)" y="306.80" font-size="12.46" fill="#000000" font-weight="normal" stroke="#000000" stroke-width="0.4"><tspan x="545.61 553.63 556.55 560.15 566.53 569.45 575.83 578.75 585.13">R (7,5,3)</tspan></text>
<text transform="scale(1.08,1)" y="306.80" font-size="12.46" fill="#000000" font-weight="normal" stroke="#000000" stroke-width="0.4"><tspan x="594.74">:</tspan></text>
<text transform="scale(1.08,1)" y="306.80" font-size="12.46" fill="#000000" font-weight="normal" stroke="#000000" stroke-width="0.4"><tspan x="602.43" textLength="3.93" lengthAdjust="spacingAndGlyphs" stroke="#000000" stroke-width="0.70">1</tspan><tspan x="605.69 608.89 615.90 622.81">,99 </tspan><tspan x="625.68" textLength="3.93" lengthAdjust="spacingAndGlyphs" stroke="#000000" stroke-width="0.70">1</tspan><tspan x="628.94 632.15 639.15 646.06 649.50 656.18">,86 2,</tspan><tspan x="658.81" textLength="3.93" lengthAdjust="spacingAndGlyphs" stroke="#000000" stroke-width="0.70">1</tspan><tspan x="662.40">0</tspan></text>
<text transform="scale(1.08,1)" y="321.80" font-size="12.46" fill="#000000" font-weight="normal" stroke="#000000" stroke-width="0.4"><tspan x="537.63 545.71 549.97 552.09 561.69 568.59 572.84 575.31">Primeri </tspan><tspan x="577.93" textLength="5.07" lengthAdjust="spacingAndGlyphs" stroke="#000000" stroke-width="0.70">1</tspan><tspan x="582.24">d</tspan></text>
<text transform="scale(1.08,1)" y="321.80" font-size="12.46" fill="#000000" font-weight="normal" stroke="#000000" stroke-width="0.4"><tspan x="594.74">:</tspan></text>
<text transform="scale(1.08,1)" y="321.80" font-size="12.46" fill="#000000" font-weight="normal" stroke="#000000" stroke-width="0.4"><tspan x="603.00 610.01 617.02 623.93 627.37 634.37 641.38 648.29 651.41 654.83 661.69 668.70 675.70 682.39">494 774 (+280)</tspan></text>
<text transform="scale(1.08,1)" y="336.80" font-size="12.46" fill="#000000" font-weight="normal" stroke="#000000" stroke-width="0.4"><tspan x="534.93 543.01 547.27 549.39 558.99 565.89 570.14 572.61 575.75 582.24">Primeri 7d</tspan></text>
<text transform="scale(1.08,1)" y="336.80" font-size="12.46" fill="#000000" font-weight="normal" stroke="#000000" stroke-width="0.4"><tspan x="594.74">:</tspan></text>
<text transform="scale(1.08,1)" y="336.80" font-size="12.46" fill="#000000" font-weight="normal" stroke="#000000" stroke-width="0.4"><tspan x="603.00">3</tspan><tspan x="609.44" textLength="3.93" lengthAdjust="spacingAndGlyphs" stroke="#000000" stroke-width="0.70">1</tspan><tspan x="613.03 620.04 626.95 630.39 637.40 644.41 651.42 658.33 661.45 664.86 671.72">44 6244 (+3</tspan><tspan x="678.16" textLength="3.93" lengthAdjust="spacingAndGlyphs" stroke="#000000" stroke-width="0.70">1</tspan><tspan x="681.75 688.76 695.45">00)</tspan></text>
<text transform="scale(1.08,1)" y="279.60" font-size="11.01" fill="#2f4f4f" font-weight="normal" stroke="#2f4f4f" stroke-width="0.25"><tspan x="694.78 701.67">SA</tspan></text>
<line x1="767.5" y1="266.3" x2="770" y2="266.3" stroke="#7f9a9a" stroke-width="1"/>
<text transform="scale(1.08,1)" y="267.60" font-size="10.43" fill="#6f8585" font-weight="normal"><tspan x="716.14" textLength="3.90" lengthAdjust="spacingAndGlyphs" stroke="#6f8585" stroke-width="0.30">1</tspan><tspan x="719.70 725.57 731.43">262</tspan></text>
<rect x="770.60" y="333.38" width="24.6" height="9.27" fill="#d0ecd0" fill-opacity="1" stroke="#ffffff" stroke-opacity="0.25" stroke-width="0.8"/>
<rect x="796.71" y="334.22" width="24.6" height="8.43" fill="#d2ecd2" fill-opacity="1" stroke="#ffffff" stroke-opacity="0.25" stroke-width="0.8"/>
<rect x="822.81" y="336.10" width="24.6" height="6.55" fill="#d5ecd5" fill-opacity="1" stroke="#ffffff" stroke-opacity="0.25" stroke-width="0.8"/>
<rect x="848.92" y="334.10" width="24.6" height="8.55" fill="#d6edd6" fill-opacity="1" stroke="#ffffff" stroke-opacity="0.25" stroke-width="0.8"/>
<rect x="875.03" y="339.19" width="24.6" height="3.46" fill="#e5f3e5" fill-opacity="1" stroke="#ffffff" stroke-opacity="0.25" stroke-width="0.8"/>
<rect x="901.13" y="341.50" width="24.6" height="1.15" fill="#eef7ee" fill-opacity="1" stroke="#ffffff" stroke-opacity="0.25" stroke-width="0.8"/>
<rect x="927.24" y="332.10" width="24.6" height="10.55" fill="#d9edd9" fill-opacity="1" stroke="#ffffff" stroke-opacity="0.25" stroke-width="0.8"/>
<rect x="953.35" y="335.19" width="24.6" height="7.46" fill="#ddeedd" fill-opacity="1" stroke="#ffffff" stroke-opacity="0.25" stroke-width="0.8"/>
<rect x="979.46" y="335.44" width="24.6" height="7.21" fill="#e0f0e0" fill-opacity="1" stroke="#ffffff" stroke-opacity="0.25" stroke-width="0.8"/>
<rect x="1005.56" y="336.22" width="24.6" height="6.43" fill="#e4f2e4" fill-opacity="1" stroke="#ffffff" stroke-opacity="0.25" stroke-width="0.8"/>
<rect x="1031.67" y="336.83" width="24.6" height="5.82" fill="#e7f3e7" fill-opacity="1" stroke="#ffffff" stroke-opacity="0.25" stroke-width="0.8"/>
<rect x="1057.78" y="338.71" width="24.6" height="3.94" fill="#eef7ee" fill-opacity="1" stroke="#ffffff" stroke-opacity="0.25" stroke-width="0.8"/>
<rect x="1083.88" y="341.44" width="24.6" height="1.21" fill="#f6fbf6" fill-opacity="1" stroke="#ffffff" stroke-opacity="0.25" stroke-width="0.8"/>
<rect x="1109.99" y="333.56" width="24.6" height="9.09" fill="#e7f3e7" fill-opacity="1" stroke="#ffffff" stroke-opacity="0.25" stroke-width="0.8"/>
<rect x="1136.10" y="335.92" width="24.6" height="6.73" fill="#eaf4ea" fill-opacity="1" stroke="#ffffff" stroke-opacity="0.25" stroke-width="0.8"/>
<rect x="1162.20" y="337.38" width="24.6" height="5.27" fill="#e7f3e7" fill-opacity="1" stroke="#ffffff" stroke-opacity="0.25" stroke-width="0.8"/>
<rect x="1188.31" y="336.59" width="24.6" height="6.06" fill="#e6f2e6" fill-opacity="1" stroke="#ffffff" stroke-opacity="0.25" stroke-width="0.8"/>
<rect x="1214.42" y="336.89" width="24.6" height="5.76" fill="#eff7ef" fill-opacity="1" stroke="#ffffff" stroke-opacity="0.25" stroke-width="0.8"/>
<rect x="1240.53" y="339.92" width="24.6" height="2.73" fill="#e9f3e9" fill-opacity="1" stroke="#ffffff" stroke-opacity="0.25" stroke-width="0.8"/>
<rect x="1266.63" y="340.89" width="24.6" height="1.76" fill="#eaf4ea" fill-opacity="1" stroke="#ffffff" stroke-opacity="0.25" stroke-width="0.8"/>
<rect x="1292.74" y="331.19" width="24.6" height="11.46" fill="#f9fcf9" fill-opacity="1" stroke="#ffffff" stroke-opacity="0.25" stroke-width="0.8"/>
<rect x="1318.85" y="331.56" width="24.6" height="11.09" fill="#f7efef" fill-opacity="1" stroke="#ffffff" stroke-opacity="0.25" stroke-width="0.8"/>
<rect x="1344.95" y="332.71" width="24.6" height="9.94" fill="#e9d1d1" fill-opacity="1" stroke="#ffffff" stroke-opacity="0.25" stroke-width="0.8"/>
<rect x="1371.06" y="329.86" width="24.6" height="12.79" fill="#dbaeae" fill-opacity="1" stroke="#ffffff" stroke-opacity="0.25" stroke-width="0.8"/>
<rect x="1397.17" y="330.16" width="24.6" height="12.49" fill="#cf8d8d" fill-opacity="1" stroke="#ffffff" stroke-opacity="0.25" stroke-width="0.8"/>
<rect x="1423.28" y="336.47" width="24.6" height="6.18" fill="#c57171" fill-opacity="1" stroke="#ffffff" stroke-opacity="0.25" stroke-width="0.8"/>
<rect x="1449.38" y="337.01" width="24.6" height="5.64" fill="#c06262" fill-opacity="1" stroke="#ffffff" stroke-opacity="0.25" stroke-width="0.8"/>
<rect x="1475.49" y="313.31" width="24.6" height="29.34" fill="#973535" fill-opacity="1" stroke="#ffffff" stroke-opacity="0.25" stroke-width="0.8"/>
<rect x="1501.60" y="309.61" width="24.6" height="33.04" fill="#661f1f" fill-opacity="1" stroke="#ffffff" stroke-opacity="0.25" stroke-width="0.8"/>
<rect x="1527.70" y="315.86" width="24.6" height="26.79" fill="#531616" fill-opacity="1" stroke="#ffffff" stroke-opacity="0.25" stroke-width="0.8"/>
<rect x="1553.81" y="313.13" width="24.6" height="29.52" fill="#581515" fill-opacity="1" stroke="#ffffff" stroke-opacity="0.25" stroke-width="0.8"/>
<rect x="1579.92" y="303.07" width="24.6" height="39.58" fill="#390b0b" fill-opacity="1" stroke="#ffffff" stroke-opacity="0.25" stroke-width="0.8"/>
<rect x="1606.02" y="318.71" width="24.6" height="23.94" fill="#270707" fill-opacity="1" stroke="#ffffff" stroke-opacity="0.25" stroke-width="0.8"/>
<rect x="1632.13" y="334.89" width="24.6" height="7.76" fill="#3b0a0a" fill-opacity="1" stroke="#ffffff" stroke-opacity="0.25" stroke-width="0.8"/>
<rect x="1658.24" y="312.70" width="24.6" height="29.95" fill="#b31e1e" fill-opacity="1" stroke="#ffffff" stroke-opacity="0.25" stroke-width="0.8"/>
<rect x="1684.35" y="266.15" width="24.6" height="76.50" fill="#c41717" fill-opacity="1" stroke="#ffffff" stroke-opacity="0.25" stroke-width="0.8"/>
<rect x="1710.45" y="283.67" width="24.6" height="58.98" fill="#d11212" fill-opacity="1" stroke="#ffffff" stroke-opacity="0.25" stroke-width="0.8"/>
<rect x="1736.56" y="293.37" width="24.6" height="49.28" fill="#ef1010" fill-opacity="1" stroke="#ffffff" stroke-opacity="0.25" stroke-width="0.8"/>
<rect x="1762.67" y="278.21" width="24.6" height="64.44" fill="#f53636" fill-opacity="1" stroke="#ffffff" stroke-opacity="0.25" stroke-width="0.8"/>
<rect x="1788.77" y="285.67" width="24.6" height="56.98" fill="#fa3030" fill-opacity="1" stroke="#ffffff" stroke-opacity="0.25" stroke-width="0.8"/>
<rect x="1814.88" y="317.25" width="24.6" height="25.40" fill="#fd1b1b" fill-opacity="1" stroke="#ffffff" stroke-opacity="0.25" stroke-width="0.8"/>
<rect x="1840.99" y="295.73" width="24.6" height="46.92" fill="#ff0404" fill-opacity="1" stroke="#ffffff" stroke-opacity="0.25" stroke-width="0.8"/>
<line x1="769.5" y1="257.5" x2="769.5" y2="342.5" stroke="#7f9a9a" stroke-width="1"/>
<line x1="769" y1="342.0" x2="1867" y2="342.0" stroke="#7f9a9a" stroke-width="1"/>
<polyline points="782.9,334.5 809.0,335.4 835.1,336.4 861.2,335.8 887.3,336.1 913.4,336.2 939.5,336.3 965.6,336.6 991.8,336.6 1017.9,336.6 1044.0,336.8 1070.1,336.9 1096.2,337.2 1122.3,337.2 1148.4,337.2 1174.5,337.4 1200.6,337.3 1226.7,337.0 1252.8,336.3 1278.9,335.7 1305.0,334.7 1331.1,333.8 1357.3,333.3 1383.4,332.7 1409.5,330.2 1435.6,327.0 1461.7,324.6 1487.8,322.2 1513.9,318.4 1540.0,315.8 1566.1,315.5 1592.2,315.4 1618.3,309.2 1644.4,304.6 1670.5,301.8 1696.6,298.2 1722.8,293.5 1748.9,291.0 1775.0,288.6" fill="none" stroke="#889898" stroke-width="0.9" stroke-dasharray="3.5 1.5" opacity="0.7"/>
<text transform="scale(1.08,1)" y="330.08" font-size="11.16" fill="#2f4f4f" font-weight="normal" stroke="#2f4f4f" stroke-width="0.3"><tspan x="716.79" textLength="4.01" lengthAdjust="spacingAndGlyphs" stroke="#2f4f4f" stroke-width="0.60">1</tspan><tspan x="720.33 726.36">53</tspan></text>
<text transform="scale(1.08,1)" y="330.92" font-size="11.16" fill="#2f4f4f" font-weight="normal" stroke="#2f4f4f" stroke-width="0.3"><tspan x="740.97" textLength="4.01" lengthAdjust="spacingAndGlyphs" stroke="#2f4f4f" stroke-width="0.60">1</tspan><tspan x="744.50 750.53">39</tspan></text>
<text transform="scale(1.08,1)" y="332.80" font-size="11.16" fill="#2f4f4f" font-weight="normal" stroke="#2f4f4f" stroke-width="0.3"><tspan x="765.14" textLength="4.01" lengthAdjust="spacingAndGlyphs" stroke="#2f4f4f" stroke-width="0.60">1</tspan><tspan x="768.68 774.71">08</tspan></text>
<text transform="scale(1.08,1)" y="330.80" font-size="11.16" fill="#2f4f4f" font-weight="normal" stroke="#2f4f4f" stroke-width="0.3"><tspan x="790.79" textLength="4.01" lengthAdjust="spacingAndGlyphs" stroke="#2f4f4f" stroke-width="0.60">1</tspan><tspan x="794.32">4</tspan><tspan x="799.90" textLength="4.01" lengthAdjust="spacingAndGlyphs" stroke="#2f4f4f" stroke-width="0.60">1</tspan></text>
<text transform="scale(1.08,1)" y="335.89" font-size="11.16" fill="#2f4f4f" font-weight="normal" stroke="#2f4f4f" stroke-width="0.3"><tspan x="815.48 821.51">57</tspan></text>
<text transform="scale(1.08,1)" y="338.20" font-size="11.16" fill="#2f4f4f" font-weight="normal" stroke="#2f4f4f" stroke-width="0.3"><tspan x="840.67" textLength="4.01" lengthAdjust="spacingAndGlyphs" stroke="#2f4f4f" stroke-width="0.60">1</tspan><tspan x="844.21">9</tspan></text>
<text transform="scale(1.08,1)" y="328.80" font-size="11.16" fill="#2f4f4f" font-weight="normal" stroke="#2f4f4f" stroke-width="0.3"><tspan x="861.83" textLength="4.01" lengthAdjust="spacingAndGlyphs" stroke="#2f4f4f" stroke-width="0.60">1</tspan><tspan x="865.37 871.40">74</tspan></text>
<text transform="scale(1.08,1)" y="331.89" font-size="11.16" fill="#2f4f4f" font-weight="normal" stroke="#2f4f4f" stroke-width="0.3"><tspan x="886.01" textLength="4.01" lengthAdjust="spacingAndGlyphs" stroke="#2f4f4f" stroke-width="0.60">1</tspan><tspan x="889.54 895.57">23</tspan></text>
<text transform="scale(1.08,1)" y="332.14" font-size="11.16" fill="#2f4f4f" font-weight="normal" stroke="#2f4f4f" stroke-width="0.3"><tspan x="911.65" textLength="4.01" lengthAdjust="spacingAndGlyphs" stroke="#2f4f4f" stroke-width="0.60">1</tspan><tspan x="914.74" textLength="4.01" lengthAdjust="spacingAndGlyphs" stroke="#2f4f4f" stroke-width="0.60">1</tspan><tspan x="918.27">9</tspan></text>
<text transform="scale(1.08,1)" y="332.92" font-size="11.16" fill="#2f4f4f" font-weight="normal" stroke="#2f4f4f" stroke-width="0.3"><tspan x="934.35" textLength="4.01" lengthAdjust="spacingAndGlyphs" stroke="#2f4f4f" stroke-width="0.60">1</tspan><tspan x="937.89 943.92">06</tspan></text>
<text transform="scale(1.08,1)" y="333.53" font-size="11.16" fill="#2f4f4f" font-weight="normal" stroke="#2f4f4f" stroke-width="0.3"><tspan x="960.52 966.55">96</tspan></text>
<text transform="scale(1.08,1)" y="335.41" font-size="11.16" fill="#2f4f4f" font-weight="normal" stroke="#2f4f4f" stroke-width="0.3"><tspan x="984.69 990.72">65</tspan></text>
<text transform="scale(1.08,1)" y="338.14" font-size="11.16" fill="#2f4f4f" font-weight="normal" stroke="#2f4f4f" stroke-width="0.3"><tspan x="1008.87 1014.90">20</tspan></text>
<text transform="scale(1.08,1)" y="330.26" font-size="11.16" fill="#2f4f4f" font-weight="normal" stroke="#2f4f4f" stroke-width="0.3"><tspan x="1031.04" textLength="4.01" lengthAdjust="spacingAndGlyphs" stroke="#2f4f4f" stroke-width="0.60">1</tspan><tspan x="1034.58 1040.61">50</tspan></text>
<text transform="scale(1.08,1)" y="332.62" font-size="11.16" fill="#2f4f4f" font-weight="normal" stroke="#2f4f4f" stroke-width="0.3"><tspan x="1058.16" textLength="4.01" lengthAdjust="spacingAndGlyphs" stroke="#2f4f4f" stroke-width="0.60">1</tspan><tspan x="1061.25" textLength="4.01" lengthAdjust="spacingAndGlyphs" stroke="#2f4f4f" stroke-width="0.60">1</tspan><tspan x="1064.33" textLength="4.01" lengthAdjust="spacingAndGlyphs" stroke="#2f4f4f" stroke-width="0.60">1</tspan></text>
<text transform="scale(1.08,1)" y="334.08" font-size="11.16" fill="#2f4f4f" font-weight="normal" stroke="#2f4f4f" stroke-width="0.3"><tspan x="1081.39 1087.42">87</tspan></text>
<text transform="scale(1.08,1)" y="333.29" font-size="11.16" fill="#2f4f4f" font-weight="normal" stroke="#2f4f4f" stroke-width="0.3"><tspan x="1103.56" textLength="4.01" lengthAdjust="spacingAndGlyphs" stroke="#2f4f4f" stroke-width="0.60">1</tspan><tspan x="1107.10 1113.13">00</tspan></text>
<text transform="scale(1.08,1)" y="333.59" font-size="11.16" fill="#2f4f4f" font-weight="normal" stroke="#2f4f4f" stroke-width="0.3"><tspan x="1129.73 1135.76">95</tspan></text>
<text transform="scale(1.08,1)" y="336.62" font-size="11.16" fill="#2f4f4f" font-weight="normal" stroke="#2f4f4f" stroke-width="0.3"><tspan x="1153.91 1159.94">45</tspan></text>
<text transform="scale(1.08,1)" y="337.59" font-size="11.16" fill="#2f4f4f" font-weight="normal" stroke="#2f4f4f" stroke-width="0.3"><tspan x="1178.08 1184.11">29</tspan></text>
<text transform="scale(1.08,1)" y="327.89" font-size="11.16" fill="#2f4f4f" font-weight="normal" stroke="#2f4f4f" stroke-width="0.3"><tspan x="1200.26" textLength="4.01" lengthAdjust="spacingAndGlyphs" stroke="#2f4f4f" stroke-width="0.60">1</tspan><tspan x="1203.79 1209.82">89</tspan></text>
<text transform="scale(1.08,1)" y="328.26" font-size="11.16" fill="#2f4f4f" font-weight="normal" stroke="#2f4f4f" stroke-width="0.3"><tspan x="1224.43" textLength="4.01" lengthAdjust="spacingAndGlyphs" stroke="#2f4f4f" stroke-width="0.60">1</tspan><tspan x="1227.97 1234.00">83</tspan></text>
<text transform="scale(1.08,1)" y="329.41" font-size="11.16" fill="#2f4f4f" font-weight="normal" stroke="#2f4f4f" stroke-width="0.3"><tspan x="1248.60" textLength="4.01" lengthAdjust="spacingAndGlyphs" stroke="#2f4f4f" stroke-width="0.60">1</tspan><tspan x="1252.14 1258.17">64</tspan></text>
<text transform="scale(1.08,1)" y="326.56" font-size="11.16" fill="#2f4f4f" font-weight="normal" stroke="#2f4f4f" stroke-width="0.3"><tspan x="1274.70">2</tspan><tspan x="1280.28" textLength="4.01" lengthAdjust="spacingAndGlyphs" stroke="#2f4f4f" stroke-width="0.60">1</tspan><tspan x="1283.36" textLength="4.01" lengthAdjust="spacingAndGlyphs" stroke="#2f4f4f" stroke-width="0.60">1</tspan></text>
<text transform="scale(1.08,1)" y="326.86" font-size="11.16" fill="#2f4f4f" font-weight="normal" stroke="#2f4f4f" stroke-width="0.3"><tspan x="1295.93 1301.96 1307.99">206</tspan></text>
<text transform="scale(1.08,1)" y="333.17" font-size="11.16" fill="#2f4f4f" font-weight="normal" stroke="#2f4f4f" stroke-width="0.3"><tspan x="1321.12" textLength="4.01" lengthAdjust="spacingAndGlyphs" stroke="#2f4f4f" stroke-width="0.60">1</tspan><tspan x="1324.66 1330.69">02</tspan></text>
<text transform="scale(1.08,1)" y="333.71" font-size="11.16" fill="#2f4f4f" font-weight="normal" stroke="#2f4f4f" stroke-width="0.3"><tspan x="1347.29 1353.32">93</tspan></text>
<text transform="scale(1.08,1)" y="310.01" font-size="11.16" fill="#2f4f4f" font-weight="normal" stroke="#2f4f4f" stroke-width="0.3"><tspan x="1368.45 1374.48 1380.51">484</tspan></text>
<text transform="scale(1.08,1)" y="306.31" font-size="11.16" fill="#2f4f4f" font-weight="normal" stroke="#2f4f4f" stroke-width="0.3"><tspan x="1392.62 1398.65 1404.68">545</tspan></text>
<text transform="scale(1.08,1)" y="312.56" font-size="11.16" fill="#2f4f4f" font-weight="normal" stroke="#2f4f4f" stroke-width="0.3"><tspan x="1416.80 1422.83 1428.86">442</tspan></text>
<text transform="scale(1.08,1)" y="309.83" font-size="11.16" fill="#2f4f4f" font-weight="normal" stroke="#2f4f4f" stroke-width="0.3"><tspan x="1440.97 1447.00 1453.03">487</tspan></text>
<text transform="scale(1.08,1)" y="299.77" font-size="11.16" fill="#2f4f4f" font-weight="normal" stroke="#2f4f4f" stroke-width="0.3"><tspan x="1465.14 1471.17 1477.20">653</tspan></text>
<text transform="scale(1.08,1)" y="315.41" font-size="11.16" fill="#2f4f4f" font-weight="normal" stroke="#2f4f4f" stroke-width="0.3"><tspan x="1489.32 1495.34 1501.37">395</tspan></text>
<text transform="scale(1.08,1)" y="331.59" font-size="11.16" fill="#2f4f4f" font-weight="normal" stroke="#2f4f4f" stroke-width="0.3"><tspan x="1514.51" textLength="4.01" lengthAdjust="spacingAndGlyphs" stroke="#2f4f4f" stroke-width="0.60">1</tspan><tspan x="1518.04 1524.07">28</tspan></text>
<text transform="scale(1.08,1)" y="309.40" font-size="11.16" fill="#2f4f4f" font-weight="normal" stroke="#2f4f4f" stroke-width="0.3"><tspan x="1537.66 1543.69 1549.72">494</tspan></text>
<text transform="scale(1.08,1)" y="262.85" font-size="11.16" fill="#2f4f4f" font-weight="normal" stroke="#2f4f4f" stroke-width="0.3"><tspan x="1559.84" textLength="4.01" lengthAdjust="spacingAndGlyphs" stroke="#2f4f4f" stroke-width="0.60">1</tspan><tspan x="1563.38 1569.41 1575.44">262</tspan></text>
<text transform="scale(1.08,1)" y="280.37" font-size="11.16" fill="#2f4f4f" font-weight="normal" stroke="#2f4f4f" stroke-width="0.3"><tspan x="1586.01 1592.04 1598.07">973</tspan></text>
<text transform="scale(1.08,1)" y="290.07" font-size="11.16" fill="#2f4f4f" font-weight="normal" stroke="#2f4f4f" stroke-width="0.3"><tspan x="1611.65">8</tspan><tspan x="1617.23" textLength="4.01" lengthAdjust="spacingAndGlyphs" stroke="#2f4f4f" stroke-width="0.60">1</tspan><tspan x="1620.77">3</tspan></text>
<text transform="scale(1.08,1)" y="274.91" font-size="11.16" fill="#2f4f4f" font-weight="normal" stroke="#2f4f4f" stroke-width="0.3"><tspan x="1632.36" textLength="4.01" lengthAdjust="spacingAndGlyphs" stroke="#2f4f4f" stroke-width="0.60">1</tspan><tspan x="1635.90 1641.93 1647.96">063</tspan></text>
<text transform="scale(1.08,1)" y="282.37" font-size="11.16" fill="#2f4f4f" font-weight="normal" stroke="#2f4f4f" stroke-width="0.3"><tspan x="1658.53 1664.56 1670.59">940</tspan></text>
<text transform="scale(1.08,1)" y="313.95" font-size="11.16" fill="#2f4f4f" font-weight="normal" stroke="#2f4f4f" stroke-width="0.3"><tspan x="1684.17">4</tspan><tspan x="1689.75" textLength="4.01" lengthAdjust="spacingAndGlyphs" stroke="#2f4f4f" stroke-width="0.60">1</tspan><tspan x="1693.29">9</tspan></text>
<text transform="scale(1.08,1)" y="292.43" font-size="11.16" fill="#2f4f4f" font-weight="normal" stroke="#2f4f4f" stroke-width="0.3"><tspan x="1706.87 1712.90 1718.93">774</tspan></text>
<line x1="939.5" y1="341.3" x2="939.5" y2="344.8" stroke="#2f4f4f" stroke-width="1"/>
<text transform="scale(1.08,1)" y="353.80" font-size="10.58" fill="#2f4f4f" font-weight="normal" stroke="#2f4f4f" stroke-width="0.3"><tspan x="848.37" textLength="4.09" lengthAdjust="spacingAndGlyphs" stroke="#2f4f4f" stroke-width="0.60">1</tspan><tspan x="851.79 857.01">3.</tspan><tspan x="859.01" textLength="4.09" lengthAdjust="spacingAndGlyphs" stroke="#2f4f4f" stroke-width="0.60">1</tspan><tspan x="862.42 867.64 869.92 875.24 880.55">2.202</tspan><tspan x="885.60" textLength="4.09" lengthAdjust="spacingAndGlyphs" stroke="#2f4f4f" stroke-width="0.60">1</tspan></text>
<line x1="1122.3" y1="341.3" x2="1122.3" y2="344.8" stroke="#2f4f4f" stroke-width="1"/>
<text transform="scale(1.08,1)" y="353.80" font-size="10.58" fill="#2f4f4f" font-weight="normal" stroke="#2f4f4f" stroke-width="0.3"><tspan x="1016.55 1021.93 1027.19">20.</tspan><tspan x="1029.20" textLength="4.13" lengthAdjust="spacingAndGlyphs" stroke="#2f4f4f" stroke-width="0.60">1</tspan><tspan x="1032.69 1037.96 1040.28 1045.66 1051.04">2.202</tspan><tspan x="1056.11" textLength="4.13" lengthAdjust="spacingAndGlyphs" stroke="#2f4f4f" stroke-width="0.60">1</tspan></text>
<line x1="1305.0" y1="341.3" x2="1305.0" y2="344.8" stroke="#2f4f4f" stroke-width="1"/>
<text transform="scale(1.08,1)" y="353.80" font-size="10.58" fill="#2f4f4f" font-weight="normal" stroke="#2f4f4f" stroke-width="0.3"><tspan x="1185.84 1191.20 1196.45">27.</tspan><tspan x="1198.45" textLength="4.12" lengthAdjust="spacingAndGlyphs" stroke="#2f4f4f" stroke-width="0.60">1</tspan><tspan x="1201.92 1207.16 1209.47 1214.83 1220.18">2.202</tspan><tspan x="1225.25" textLength="4.12" lengthAdjust="spacingAndGlyphs" stroke="#2f4f4f" stroke-width="0.60">1</tspan></text>
<line x1="1487.8" y1="341.3" x2="1487.8" y2="344.8" stroke="#2f4f4f" stroke-width="1"/>
<text transform="scale(1.08,1)" y="353.80" font-size="10.58" fill="#2f4f4f" font-weight="normal" stroke="#2f4f4f" stroke-width="0.3"><tspan x="1358.84 1364.21">3.</tspan><tspan x="1366.24" textLength="4.25" lengthAdjust="spacingAndGlyphs" stroke="#2f4f4f" stroke-width="0.60">1</tspan><tspan x="1369.75 1372.17 1377.71 1383.24 1388.77">.2022</tspan></text>
<line x1="1670.5" y1="341.3" x2="1670.5" y2="344.8" stroke="#2f4f4f" stroke-width="1"/>
<text transform="scale(1.08,1)" y="353.80" font-size="10.58" fill="#2f4f4f" font-weight="normal" stroke="#2f4f4f" stroke-width="0.3"><tspan x="1526.32" textLength="4.19" lengthAdjust="spacingAndGlyphs" stroke="#2f4f4f" stroke-width="0.60">1</tspan><tspan x="1529.89 1535.20">0.</tspan><tspan x="1537.22" textLength="4.19" lengthAdjust="spacingAndGlyphs" stroke="#2f4f4f" stroke-width="0.60">1</tspan><tspan x="1540.65 1543.02 1548.47 1553.92 1559.37">.2022</tspan></text>
<line x1="1853.3" y1="341.3" x2="1853.3" y2="344.8" stroke="#2f4f4f" stroke-width="1"/>
<text transform="scale(1.08,1)" y="353.80" font-size="10.58" fill="#2f4f4f" font-weight="normal" stroke="#2f4f4f" stroke-width="0.3"><tspan x="1695.68" textLength="4.16" lengthAdjust="spacingAndGlyphs" stroke="#2f4f4f" stroke-width="0.60">1</tspan><tspan x="1699.20 1704.48">7.</tspan><tspan x="1706.50" textLength="4.16" lengthAdjust="spacingAndGlyphs" stroke="#2f4f4f" stroke-width="0.60">1</tspan><tspan x="1709.89 1712.23 1717.64 1723.05 1728.46">.2022</tspan></text>
<rect x="526.7" y="360.3" width="24.6" height="90" fill="#00a000"/>
<g transform="translate(534.2,405.3) rotate(90)">
<text transform="scale(1.08,1)" y="0.00" font-size="16.38" fill="#ffffff" font-weight="bold" filter="url(#shr)"><tspan x="-36.75 -26.42 -17.40 -11.56 -3.68 5.57 9.80 18.14 26.47">Gorenjska</tspan></text>
</g>
<text transform="scale(1.08,1)" y="381.80" font-size="12.46" fill="#000000" font-weight="normal" stroke="#000000" stroke-width="0.4"><tspan x="534.26 541.81 548.19 554.56 561.07 563.41 570.14 576.29 579.33 582.24">Populacija</tspan></text>
<text transform="scale(1.08,1)" y="381.80" font-size="12.46" fill="#000000" font-weight="normal" stroke="#000000" stroke-width="0.4"><tspan x="594.74">:</tspan></text>
<text transform="scale(1.08,1)" y="381.80" font-size="12.46" fill="#000000" font-weight="normal" stroke="#000000" stroke-width="0.4"><tspan x="603.00 610.01 617.02 624.02 631.03 638.04">207842</tspan></text>
<text transform="scale(1.08,1)" y="396.80" font-size="12.46" fill="#000000" font-weight="normal" stroke="#000000" stroke-width="0.4"><tspan x="523.02 529.51 536.01 539.17 541.51 548.24 554.39 556.74 563.11 569.49 576.21 582.24">7d incidenca</tspan></text>
<text transform="scale(1.08,1)" y="396.80" font-size="12.46" fill="#000000" font-weight="normal" stroke="#000000" stroke-width="0.4"><tspan x="594.74">:</tspan></text>
<text transform="scale(1.08,1)" y="396.80" font-size="12.46" fill="#000000" font-weight="normal" stroke="#000000" stroke-width="0.4"><tspan x="603.00 610.01 617.02 624.02 630.93 634.37 641.38 648.39 655.40 662.31 665.43 668.84">2495 2686 (+</tspan><tspan x="675.13" textLength="3.93" lengthAdjust="spacingAndGlyphs" stroke="#000000" stroke-width="0.70">1</tspan><tspan x="678.73">9</tspan><tspan x="685.17" textLength="3.93" lengthAdjust="spacingAndGlyphs" stroke="#000000" stroke-width="0.70">1</tspan><tspan x="688.44">)</tspan></text>
<text transform="scale(1.08,1)" y="411.80" font-size="12.46" fill="#000000" font-weight="normal" stroke="#000000" stroke-width="0.4"><tspan x="545.61 553.63 556.55 560.15 566.53 569.45 575.83 578.75 585.13">R (7,5,3)</tspan></text>
<text transform="scale(1.08,1)" y="411.80" font-size="12.46" fill="#000000" font-weight="normal" stroke="#000000" stroke-width="0.4"><tspan x="594.74">:</tspan></text>
<text transform="scale(1.08,1)" y="411.80" font-size="12.46" fill="#000000" font-weight="normal" stroke="#000000" stroke-width="0.4"><tspan x="602.43" textLength="3.93" lengthAdjust="spacingAndGlyphs" stroke="#000000" stroke-width="0.70">1</tspan><tspan x="605.69 608.89 615.90 622.81">,78 </tspan><tspan x="625.68" textLength="3.93" lengthAdjust="spacingAndGlyphs" stroke="#000000" stroke-width="0.70">1</tspan><tspan x="628.94 632.15 639.15 646.06">,83 </tspan><tspan x="648.93" textLength="3.93" lengthAdjust="spacingAndGlyphs" stroke="#000000" stroke-width="0.70">1</tspan><tspan x="652.19 655.40">,9</tspan><tspan x="661.83" textLength="3.93" lengthAdjust="spacingAndGlyphs" stroke="#000000" stroke-width="0.70">1</tspan></text>
<text transform="scale(1.08,1)" y="426.80" font-size="12.46" fill="#000000" font-weight="normal" stroke="#000000" stroke-width="0.4"><tspan x="537.63 545.71 549.97 552.09 561.69 568.59 572.84 575.31">Primeri </tspan><tspan x="577.93" textLength="5.07" lengthAdjust="spacingAndGlyphs" stroke="#000000" stroke-width="0.70">1</tspan><tspan x="582.24">d</tspan></text>
<text transform="scale(1.08,1)" y="426.80" font-size="12.46" fill="#000000" font-weight="normal" stroke="#000000" stroke-width="0.4"><tspan x="594.74">:</tspan></text>
<text transform="scale(1.08,1)" y="426.80" font-size="12.46" fill="#000000" font-weight="normal" stroke="#000000" stroke-width="0.4"><tspan x="603.00 610.01 617.02 623.93">624 </tspan><tspan x="626.80" textLength="3.93" lengthAdjust="spacingAndGlyphs" stroke="#000000" stroke-width="0.70">1</tspan><tspan x="630.39 637.40">02</tspan><tspan x="643.84" textLength="3.93" lengthAdjust="spacingAndGlyphs" stroke="#000000" stroke-width="0.70">1</tspan><tspan x="647.34 650.46 653.87 660.73 667.74 674.75 681.43"> (+397)</tspan></text>
<text transform="scale(1.08,1)" y="441.80" font-size="12.46" fill="#000000" font-weight="normal" stroke="#000000" stroke-width="0.4"><tspan x="534.93 543.01 547.27 549.39 558.99 565.89 570.14 572.61 575.75 582.24">Primeri 7d</tspan></text>
<text transform="scale(1.08,1)" y="441.80" font-size="12.46" fill="#000000" font-weight="normal" stroke="#000000" stroke-width="0.4"><tspan x="594.74">:</tspan></text>
<text transform="scale(1.08,1)" y="441.80" font-size="12.46" fill="#000000" font-weight="normal" stroke="#000000" stroke-width="0.4"><tspan x="603.00">3</tspan><tspan x="609.44" textLength="3.93" lengthAdjust="spacingAndGlyphs" stroke="#000000" stroke-width="0.70">1</tspan><tspan x="613.03">4</tspan><tspan x="619.47" textLength="3.93" lengthAdjust="spacingAndGlyphs" stroke="#000000" stroke-width="0.70">1</tspan><tspan x="622.97 626.41 633.42 640.43 647.43 654.34 657.46 660.88 667.74 674.75 681.75 688.76 695.45"> 5583 (+2442)</tspan></text>
<text transform="scale(1.08,1)" y="384.60" font-size="11.01" fill="#2f4f4f" font-weight="normal" stroke="#2f4f4f" stroke-width="0.25"><tspan x="694.17 701.06">GO</tspan></text>
<line x1="767.5" y1="371.3" x2="770" y2="371.3" stroke="#7f9a9a" stroke-width="1"/>
<text transform="scale(1.08,1)" y="372.60" font-size="10.43" fill="#6f8585" font-weight="normal"><tspan x="716.14" textLength="3.90" lengthAdjust="spacingAndGlyphs" stroke="#6f8585" stroke-width="0.30">1</tspan><tspan x="719.70 725.57">02</tspan><tspan x="730.87" textLength="3.90" lengthAdjust="spacingAndGlyphs" stroke="#6f8585" stroke-width="0.30">1</tspan></text>
<rect x="770.60" y="435.59" width="24.6" height="12.06" fill="#caecca" fill-opacity="1" stroke="#ffffff" stroke-opacity="0.25" stroke-width="0.8"/>
<rect x="796.71" y="434.24" width="24.6" height="13.41" fill="#d0efd0" fill-opacity="1" stroke="#ffffff" stroke-opacity="0.25" stroke-width="0.8"/>
<rect x="822.81" y="440.16" width="24.6" height="7.49" fill="#d6f0d6" fill-opacity="1" stroke="#ffffff" stroke-opacity="0.25" stroke-width="0.8"/>
<rect x="848.92" y="436.56" width="24.6" height="11.09" fill="#daf1da" fill-opacity="1" stroke="#ffffff" stroke-opacity="0.25" stroke-width="0.8"/>
<rect x="875.03" y="442.11" width="24.6" height="5.54" fill="#dbf0db" fill-opacity="1" stroke="#ffffff" stroke-opacity="0.25" stroke-width="0.8"/>
<rect x="901.13" y="445.10" width="24.6" height="2.55" fill="#e4f4e4" fill-opacity="1" stroke="#ffffff" stroke-opacity="0.25" stroke-width="0.8"/>
<rect x="927.24" y="434.01" width="24.6" height="13.64" fill="#e4f4e4" fill-opacity="1" stroke="#ffffff" stroke-opacity="0.25" stroke-width="0.8"/>
<rect x="953.35" y="437.24" width="24.6" height="10.41" fill="#e2f3e2" fill-opacity="1" stroke="#ffffff" stroke-opacity="0.25" stroke-width="0.8"/>
<rect x="979.46" y="437.09" width="24.6" height="10.56" fill="#e2f3e2" fill-opacity="1" stroke="#ffffff" stroke-opacity="0.25" stroke-width="0.8"/>
<rect x="1005.56" y="436.64" width="24.6" height="11.01" fill="#edf8ed" fill-opacity="1" stroke="#ffffff" stroke-opacity="0.25" stroke-width="0.8"/>
<rect x="1031.67" y="438.21" width="24.6" height="9.44" fill="#f1f9f1" fill-opacity="1" stroke="#ffffff" stroke-opacity="0.25" stroke-width="0.8"/>
<rect x="1057.78" y="440.91" width="24.6" height="6.74" fill="#f6fbf6" fill-opacity="1" stroke="#ffffff" stroke-opacity="0.25" stroke-width="0.8"/>
<rect x="1083.88" y="444.58" width="24.6" height="3.07" fill="#fafdfa" fill-opacity="1" stroke="#ffffff" stroke-opacity="0.25" stroke-width="0.8"/>
<rect x="1109.99" y="435.66" width="24.6" height="11.99" fill="#f8fcf8" fill-opacity="1" stroke="#ffffff" stroke-opacity="0.25" stroke-width="0.8"/>
<rect x="1136.10" y="437.24" width="24.6" height="10.41" fill="#fcfefc" fill-opacity="1" stroke="#ffffff" stroke-opacity="0.25" stroke-width="0.8"/>
<rect x="1162.20" y="438.58" width="24.6" height="9.07" fill="#fefefe" fill-opacity="1" stroke="#ffffff" stroke-opacity="0.25" stroke-width="0.8"/>
<rect x="1188.31" y="439.03" width="24.6" height="8.62" fill="#f0f9f0" fill-opacity="1" stroke="#ffffff" stroke-opacity="0.25" stroke-width="0.8"/>
<rect x="1214.42" y="438.43" width="24.6" height="9.22" fill="#f4faf4" fill-opacity="1" stroke="#ffffff" stroke-opacity="0.25" stroke-width="0.8"/>
<rect x="1240.53" y="443.98" width="24.6" height="3.67" fill="#e8f5e8" fill-opacity="1" stroke="#ffffff" stroke-opacity="0.25" stroke-width="0.8"/>
<rect x="1266.63" y="443.38" width="24.6" height="4.27" fill="#eaf6ea" fill-opacity="1" stroke="#ffffff" stroke-opacity="0.25" stroke-width="0.8"/>
<rect x="1292.74" y="436.56" width="24.6" height="11.09" fill="#ecf6ec" fill-opacity="1" stroke="#ffffff" stroke-opacity="0.25" stroke-width="0.8"/>
<rect x="1318.85" y="435.96" width="24.6" height="11.69" fill="#eff8ef" fill-opacity="1" stroke="#ffffff" stroke-opacity="0.25" stroke-width="0.8"/>
<rect x="1344.95" y="436.71" width="24.6" height="10.94" fill="#f9fcf9" fill-opacity="1" stroke="#ffffff" stroke-opacity="0.25" stroke-width="0.8"/>
<rect x="1371.06" y="434.09" width="24.6" height="13.56" fill="#f9f0f0" fill-opacity="1" stroke="#ffffff" stroke-opacity="0.25" stroke-width="0.8"/>
<rect x="1397.17" y="434.76" width="24.6" height="12.89" fill="#f4e3e3" fill-opacity="1" stroke="#ffffff" stroke-opacity="0.25" stroke-width="0.8"/>
<rect x="1423.28" y="441.73" width="24.6" height="5.92" fill="#edd0d0" fill-opacity="1" stroke="#ffffff" stroke-opacity="0.25" stroke-width="0.8"/>
<rect x="1449.38" y="441.43" width="24.6" height="6.22" fill="#eccfcf" fill-opacity="1" stroke="#ffffff" stroke-opacity="0.25" stroke-width="0.8"/>
<rect x="1475.49" y="421.35" width="24.6" height="26.30" fill="#db9696" fill-opacity="1" stroke="#ffffff" stroke-opacity="0.25" stroke-width="0.8"/>
<rect x="1501.60" y="406.59" width="24.6" height="41.06" fill="#c13737" fill-opacity="1" stroke="#ffffff" stroke-opacity="0.25" stroke-width="0.8"/>
<rect x="1527.70" y="415.28" width="24.6" height="32.37" fill="#8a2222" fill-opacity="1" stroke="#ffffff" stroke-opacity="0.25" stroke-width="0.8"/>
<rect x="1553.81" y="409.44" width="24.6" height="38.21" fill="#641414" fill-opacity="1" stroke="#ffffff" stroke-opacity="0.25" stroke-width="0.8"/>
<rect x="1579.92" y="409.14" width="24.6" height="38.51" fill="#320909" fill-opacity="1" stroke="#ffffff" stroke-opacity="0.25" stroke-width="0.8"/>
<rect x="1606.02" y="428.84" width="24.6" height="18.81" fill="#280606" fill-opacity="1" stroke="#ffffff" stroke-opacity="0.25" stroke-width="0.8"/>
<rect x="1632.13" y="428.02" width="24.6" height="19.63" fill="#280606" fill-opacity="1" stroke="#ffffff" stroke-opacity="0.25" stroke-width="0.8"/>
<rect x="1658.24" y="400.90" width="24.6" height="46.75" fill="#470808" fill-opacity="1" stroke="#ffffff" stroke-opacity="0.25" stroke-width="0.8"/>
<rect x="1684.35" y="384.86" width="24.6" height="62.79" fill="#bb1111" fill-opacity="1" stroke="#ffffff" stroke-opacity="0.25" stroke-width="0.8"/>
<rect x="1710.45" y="388.53" width="24.6" height="59.12" fill="#e21010" fill-opacity="1" stroke="#ffffff" stroke-opacity="0.25" stroke-width="0.8"/>
<rect x="1736.56" y="381.27" width="24.6" height="66.38" fill="#f52020" fill-opacity="1" stroke="#ffffff" stroke-opacity="0.25" stroke-width="0.8"/>
<rect x="1762.67" y="380.44" width="24.6" height="67.21" fill="#fa3636" fill-opacity="1" stroke="#ffffff" stroke-opacity="0.25" stroke-width="0.8"/>
<rect x="1788.77" y="402.84" width="24.6" height="44.81" fill="#fe2f2f" fill-opacity="1" stroke="#ffffff" stroke-opacity="0.25" stroke-width="0.8"/>
<rect x="1814.88" y="406.14" width="24.6" height="41.51" fill="#ff3131" fill-opacity="1" stroke="#ffffff" stroke-opacity="0.25" stroke-width="0.8"/>
<rect x="1840.99" y="371.15" width="24.6" height="76.50" fill="#ff3939" fill-opacity="1" stroke="#ffffff" stroke-opacity="0.25" stroke-width="0.8"/>
<line x1="769.5" y1="362.5" x2="769.5" y2="447.5" stroke="#7f9a9a" stroke-width="1"/>
<line x1="769" y1="447.0" x2="1867" y2="447.0" stroke="#7f9a9a" stroke-width="1"/>
<polyline points="782.9,436.6 809.0,437.7 835.1,439.0 861.2,438.3 887.3,438.5 913.4,438.9 939.5,438.4 965.6,438.6 991.8,438.5 1017.9,438.4 1044.0,438.6 1070.1,438.6 1096.2,438.8 1122.3,439.2 1148.4,439.2 1174.5,439.6 1200.6,439.5 1226.7,439.6 1252.8,439.4 1278.9,439.2 1305.0,438.4 1331.1,437.9 1357.3,437.6 1383.4,437.3 1409.5,435.1 1435.6,431.0 1461.7,427.9 1487.8,424.4 1513.9,420.7 1540.0,418.9 1566.1,417.0 1592.2,414.0 1618.3,410.9 1644.4,407.1 1670.5,403.1 1696.6,399.0 1722.8,395.3 1748.9,392.1 1775.0,387.9" fill="none" stroke="#889898" stroke-width="0.9" stroke-dasharray="3.5 1.5" opacity="0.7"/>
<text transform="scale(1.08,1)" y="432.29" font-size="11.16" fill="#2f4f4f" font-weight="normal" stroke="#2f4f4f" stroke-width="0.3"><tspan x="718.27" textLength="4.01" lengthAdjust="spacingAndGlyphs" stroke="#2f4f4f" stroke-width="0.60">1</tspan><tspan x="721.80">6</tspan><tspan x="727.38" textLength="4.01" lengthAdjust="spacingAndGlyphs" stroke="#2f4f4f" stroke-width="0.60">1</tspan></text>
<text transform="scale(1.08,1)" y="430.94" font-size="11.16" fill="#2f4f4f" font-weight="normal" stroke="#2f4f4f" stroke-width="0.3"><tspan x="740.97" textLength="4.01" lengthAdjust="spacingAndGlyphs" stroke="#2f4f4f" stroke-width="0.60">1</tspan><tspan x="744.50 750.53">79</tspan></text>
<text transform="scale(1.08,1)" y="436.86" font-size="11.16" fill="#2f4f4f" font-weight="normal" stroke="#2f4f4f" stroke-width="0.3"><tspan x="765.14" textLength="4.01" lengthAdjust="spacingAndGlyphs" stroke="#2f4f4f" stroke-width="0.60">1</tspan><tspan x="768.68 774.71">00</tspan></text>
<text transform="scale(1.08,1)" y="433.26" font-size="11.16" fill="#2f4f4f" font-weight="normal" stroke="#2f4f4f" stroke-width="0.3"><tspan x="789.31" textLength="4.01" lengthAdjust="spacingAndGlyphs" stroke="#2f4f4f" stroke-width="0.60">1</tspan><tspan x="792.85 798.88">48</tspan></text>
<text transform="scale(1.08,1)" y="438.81" font-size="11.16" fill="#2f4f4f" font-weight="normal" stroke="#2f4f4f" stroke-width="0.3"><tspan x="815.48 821.51">74</tspan></text>
<text transform="scale(1.08,1)" y="441.80" font-size="11.16" fill="#2f4f4f" font-weight="normal" stroke="#2f4f4f" stroke-width="0.3"><tspan x="839.66 845.68">34</tspan></text>
<text transform="scale(1.08,1)" y="430.71" font-size="11.16" fill="#2f4f4f" font-weight="normal" stroke="#2f4f4f" stroke-width="0.3"><tspan x="861.83" textLength="4.01" lengthAdjust="spacingAndGlyphs" stroke="#2f4f4f" stroke-width="0.60">1</tspan><tspan x="865.37 871.40">82</tspan></text>
<text transform="scale(1.08,1)" y="433.94" font-size="11.16" fill="#2f4f4f" font-weight="normal" stroke="#2f4f4f" stroke-width="0.3"><tspan x="886.01" textLength="4.01" lengthAdjust="spacingAndGlyphs" stroke="#2f4f4f" stroke-width="0.60">1</tspan><tspan x="889.54 895.57">39</tspan></text>
<text transform="scale(1.08,1)" y="433.79" font-size="11.16" fill="#2f4f4f" font-weight="normal" stroke="#2f4f4f" stroke-width="0.3"><tspan x="911.65" textLength="4.01" lengthAdjust="spacingAndGlyphs" stroke="#2f4f4f" stroke-width="0.60">1</tspan><tspan x="915.19">4</tspan><tspan x="920.76" textLength="4.01" lengthAdjust="spacingAndGlyphs" stroke="#2f4f4f" stroke-width="0.60">1</tspan></text>
<text transform="scale(1.08,1)" y="433.34" font-size="11.16" fill="#2f4f4f" font-weight="normal" stroke="#2f4f4f" stroke-width="0.3"><tspan x="934.35" textLength="4.01" lengthAdjust="spacingAndGlyphs" stroke="#2f4f4f" stroke-width="0.60">1</tspan><tspan x="937.89 943.92">47</tspan></text>
<text transform="scale(1.08,1)" y="434.91" font-size="11.16" fill="#2f4f4f" font-weight="normal" stroke="#2f4f4f" stroke-width="0.3"><tspan x="958.52" textLength="4.01" lengthAdjust="spacingAndGlyphs" stroke="#2f4f4f" stroke-width="0.60">1</tspan><tspan x="962.06 968.09">26</tspan></text>
<text transform="scale(1.08,1)" y="437.61" font-size="11.16" fill="#2f4f4f" font-weight="normal" stroke="#2f4f4f" stroke-width="0.3"><tspan x="984.69 990.72">90</tspan></text>
<text transform="scale(1.08,1)" y="441.28" font-size="11.16" fill="#2f4f4f" font-weight="normal" stroke="#2f4f4f" stroke-width="0.3"><tspan x="1010.34">4</tspan><tspan x="1015.92" textLength="4.01" lengthAdjust="spacingAndGlyphs" stroke="#2f4f4f" stroke-width="0.60">1</tspan></text>
<text transform="scale(1.08,1)" y="432.36" font-size="11.16" fill="#2f4f4f" font-weight="normal" stroke="#2f4f4f" stroke-width="0.3"><tspan x="1031.04" textLength="4.01" lengthAdjust="spacingAndGlyphs" stroke="#2f4f4f" stroke-width="0.60">1</tspan><tspan x="1034.58 1040.61">60</tspan></text>
<text transform="scale(1.08,1)" y="433.94" font-size="11.16" fill="#2f4f4f" font-weight="normal" stroke="#2f4f4f" stroke-width="0.3"><tspan x="1055.22" textLength="4.01" lengthAdjust="spacingAndGlyphs" stroke="#2f4f4f" stroke-width="0.60">1</tspan><tspan x="1058.76 1064.78">39</tspan></text>
<text transform="scale(1.08,1)" y="435.28" font-size="11.16" fill="#2f4f4f" font-weight="normal" stroke="#2f4f4f" stroke-width="0.3"><tspan x="1080.86" textLength="4.01" lengthAdjust="spacingAndGlyphs" stroke="#2f4f4f" stroke-width="0.60">1</tspan><tspan x="1084.40">2</tspan><tspan x="1089.98" textLength="4.01" lengthAdjust="spacingAndGlyphs" stroke="#2f4f4f" stroke-width="0.60">1</tspan></text>
<text transform="scale(1.08,1)" y="435.73" font-size="11.16" fill="#2f4f4f" font-weight="normal" stroke="#2f4f4f" stroke-width="0.3"><tspan x="1105.04" textLength="4.01" lengthAdjust="spacingAndGlyphs" stroke="#2f4f4f" stroke-width="0.60">1</tspan><tspan x="1108.12" textLength="4.01" lengthAdjust="spacingAndGlyphs" stroke="#2f4f4f" stroke-width="0.60">1</tspan><tspan x="1111.66">5</tspan></text>
<text transform="scale(1.08,1)" y="435.13" font-size="11.16" fill="#2f4f4f" font-weight="normal" stroke="#2f4f4f" stroke-width="0.3"><tspan x="1127.74" textLength="4.01" lengthAdjust="spacingAndGlyphs" stroke="#2f4f4f" stroke-width="0.60">1</tspan><tspan x="1131.27 1137.30">23</tspan></text>
<text transform="scale(1.08,1)" y="440.68" font-size="11.16" fill="#2f4f4f" font-weight="normal" stroke="#2f4f4f" stroke-width="0.3"><tspan x="1153.91 1159.94">49</tspan></text>
<text transform="scale(1.08,1)" y="440.08" font-size="11.16" fill="#2f4f4f" font-weight="normal" stroke="#2f4f4f" stroke-width="0.3"><tspan x="1178.08 1184.11">57</tspan></text>
<text transform="scale(1.08,1)" y="433.26" font-size="11.16" fill="#2f4f4f" font-weight="normal" stroke="#2f4f4f" stroke-width="0.3"><tspan x="1200.26" textLength="4.01" lengthAdjust="spacingAndGlyphs" stroke="#2f4f4f" stroke-width="0.60">1</tspan><tspan x="1203.79 1209.82">48</tspan></text>
<text transform="scale(1.08,1)" y="432.66" font-size="11.16" fill="#2f4f4f" font-weight="normal" stroke="#2f4f4f" stroke-width="0.3"><tspan x="1224.43" textLength="4.01" lengthAdjust="spacingAndGlyphs" stroke="#2f4f4f" stroke-width="0.60">1</tspan><tspan x="1227.97 1234.00">56</tspan></text>
<text transform="scale(1.08,1)" y="433.41" font-size="11.16" fill="#2f4f4f" font-weight="normal" stroke="#2f4f4f" stroke-width="0.3"><tspan x="1248.60" textLength="4.01" lengthAdjust="spacingAndGlyphs" stroke="#2f4f4f" stroke-width="0.60">1</tspan><tspan x="1252.14 1258.17">46</tspan></text>
<text transform="scale(1.08,1)" y="430.79" font-size="11.16" fill="#2f4f4f" font-weight="normal" stroke="#2f4f4f" stroke-width="0.3"><tspan x="1274.25" textLength="4.01" lengthAdjust="spacingAndGlyphs" stroke="#2f4f4f" stroke-width="0.60">1</tspan><tspan x="1277.79">8</tspan><tspan x="1283.36" textLength="4.01" lengthAdjust="spacingAndGlyphs" stroke="#2f4f4f" stroke-width="0.60">1</tspan></text>
<text transform="scale(1.08,1)" y="431.46" font-size="11.16" fill="#2f4f4f" font-weight="normal" stroke="#2f4f4f" stroke-width="0.3"><tspan x="1296.95" textLength="4.01" lengthAdjust="spacingAndGlyphs" stroke="#2f4f4f" stroke-width="0.60">1</tspan><tspan x="1300.49 1306.52">72</tspan></text>
<text transform="scale(1.08,1)" y="438.43" font-size="11.16" fill="#2f4f4f" font-weight="normal" stroke="#2f4f4f" stroke-width="0.3"><tspan x="1323.12 1329.15">79</tspan></text>
<text transform="scale(1.08,1)" y="438.13" font-size="11.16" fill="#2f4f4f" font-weight="normal" stroke="#2f4f4f" stroke-width="0.3"><tspan x="1347.29 1353.32">83</tspan></text>
<text transform="scale(1.08,1)" y="418.05" font-size="11.16" fill="#2f4f4f" font-weight="normal" stroke="#2f4f4f" stroke-width="0.3"><tspan x="1369.92 1375.95">35</tspan><tspan x="1381.53" textLength="4.01" lengthAdjust="spacingAndGlyphs" stroke="#2f4f4f" stroke-width="0.60">1</tspan></text>
<text transform="scale(1.08,1)" y="403.29" font-size="11.16" fill="#2f4f4f" font-weight="normal" stroke="#2f4f4f" stroke-width="0.3"><tspan x="1392.62 1398.65 1404.68">548</tspan></text>
<text transform="scale(1.08,1)" y="411.98" font-size="11.16" fill="#2f4f4f" font-weight="normal" stroke="#2f4f4f" stroke-width="0.3"><tspan x="1416.80 1422.83 1428.86">432</tspan></text>
<text transform="scale(1.08,1)" y="406.14" font-size="11.16" fill="#2f4f4f" font-weight="normal" stroke="#2f4f4f" stroke-width="0.3"><tspan x="1442.44">5</tspan><tspan x="1448.02" textLength="4.01" lengthAdjust="spacingAndGlyphs" stroke="#2f4f4f" stroke-width="0.60">1</tspan><tspan x="1451.56">0</tspan></text>
<text transform="scale(1.08,1)" y="405.84" font-size="11.16" fill="#2f4f4f" font-weight="normal" stroke="#2f4f4f" stroke-width="0.3"><tspan x="1466.62">5</tspan><tspan x="1472.19" textLength="4.01" lengthAdjust="spacingAndGlyphs" stroke="#2f4f4f" stroke-width="0.60">1</tspan><tspan x="1475.73">4</tspan></text>
<text transform="scale(1.08,1)" y="425.54" font-size="11.16" fill="#2f4f4f" font-weight="normal" stroke="#2f4f4f" stroke-width="0.3"><tspan x="1490.79 1496.82">25</tspan><tspan x="1502.39" textLength="4.01" lengthAdjust="spacingAndGlyphs" stroke="#2f4f4f" stroke-width="0.60">1</tspan></text>
<text transform="scale(1.08,1)" y="424.72" font-size="11.16" fill="#2f4f4f" font-weight="normal" stroke="#2f4f4f" stroke-width="0.3"><tspan x="1513.49 1519.52 1525.55">262</tspan></text>
<text transform="scale(1.08,1)" y="397.60" font-size="11.16" fill="#2f4f4f" font-weight="normal" stroke="#2f4f4f" stroke-width="0.3"><tspan x="1537.66 1543.69 1549.72">624</tspan></text>
<text transform="scale(1.08,1)" y="381.56" font-size="11.16" fill="#2f4f4f" font-weight="normal" stroke="#2f4f4f" stroke-width="0.3"><tspan x="1561.83 1567.86 1573.89">838</tspan></text>
<text transform="scale(1.08,1)" y="385.23" font-size="11.16" fill="#2f4f4f" font-weight="normal" stroke="#2f4f4f" stroke-width="0.3"><tspan x="1586.01 1592.04 1598.07">789</tspan></text>
<text transform="scale(1.08,1)" y="377.97" font-size="11.16" fill="#2f4f4f" font-weight="normal" stroke="#2f4f4f" stroke-width="0.3"><tspan x="1610.18 1616.21 1622.24">886</tspan></text>
<text transform="scale(1.08,1)" y="377.14" font-size="11.16" fill="#2f4f4f" font-weight="normal" stroke="#2f4f4f" stroke-width="0.3"><tspan x="1634.35 1640.38 1646.41">897</tspan></text>
<text transform="scale(1.08,1)" y="399.54" font-size="11.16" fill="#2f4f4f" font-weight="normal" stroke="#2f4f4f" stroke-width="0.3"><tspan x="1658.53 1664.56 1670.59">598</tspan></text>
<text transform="scale(1.08,1)" y="402.84" font-size="11.16" fill="#2f4f4f" font-weight="normal" stroke="#2f4f4f" stroke-width="0.3"><tspan x="1682.70 1688.73 1694.76">554</tspan></text>
<text transform="scale(1.08,1)" y="367.85" font-size="11.16" fill="#2f4f4f" font-weight="normal" stroke="#2f4f4f" stroke-width="0.3"><tspan x="1706.35" textLength="4.01" lengthAdjust="spacingAndGlyphs" stroke="#2f4f4f" stroke-width="0.60">1</tspan><tspan x="1709.89 1715.92">02</tspan><tspan x="1721.49" textLength="4.01" lengthAdjust="spacingAndGlyphs" stroke="#2f4f4f" stroke-width="0.60">1</tspan></text>
<line x1="939.5" y1="446.3" x2="939.5" y2="449.8" stroke="#2f4f4f" stroke-width="1"/>
<text transform="scale(1.08,1)" y="458.80" font-size="10.58" fill="#2f4f4f" font-weight="normal" stroke="#2f4f4f" stroke-width="0.3"><tspan x="848.37" textLength="4.09" lengthAdjust="spacingAndGlyphs" stroke="#2f4f4f" stroke-width="0.60">1</tspan><tspan x="851.79 857.01">3.</tspan><tspan x="859.01" textLength="4.09" lengthAdjust="spacingAndGlyphs" stroke="#2f4f4f" stroke-width="0.60">1</tspan><tspan x="862.42 867.64 869.92 875.24 880.55">2.202</tspan><tspan x="885.60" textLength="4.09" lengthAdjust="spacingAndGlyphs" stroke="#2f4f4f" stroke-width="0.60">1</tspan></text>
<line x1="1122.3" y1="446.3" x2="1122.3" y2="449.8" stroke="#2f4f4f" stroke-width="1"/>
<text transform="scale(1.08,1)" y="458.80" font-size="10.58" fill="#2f4f4f" font-weight="normal" stroke="#2f4f4f" stroke-width="0.3"><tspan x="1016.55 1021.93 1027.19">20.</tspan><tspan x="1029.20" textLength="4.13" lengthAdjust="spacingAndGlyphs" stroke="#2f4f4f" stroke-width="0.60">1</tspan><tspan x="1032.69 1037.96 1040.28 1045.66 1051.04">2.202</tspan><tspan x="1056.11" textLength="4.13" lengthAdjust="spacingAndGlyphs" stroke="#2f4f4f" stroke-width="0.60">1</tspan></text>
<line x1="1305.0" y1="446.3" x2="1305.0" y2="449.8" stroke="#2f4f4f" stroke-width="1"/>
<text transform="scale(1.08,1)" y="458.80" font-size="10.58" fill="#2f4f4f" font-weight="normal" stroke="#2f4f4f" stroke-width="0.3"><tspan x="1185.84 1191.20 1196.45">27.</tspan><tspan x="1198.45" textLength="4.12" lengthAdjust="spacingAndGlyphs" stroke="#2f4f4f" stroke-width="0.60">1</tspan><tspan x="1201.92 1207.16 1209.47 1214.83 1220.18">2.202</tspan><tspan x="1225.25" textLength="4.12" lengthAdjust="spacingAndGlyphs" stroke="#2f4f4f" stroke-width="0.60">1</tspan></text>
<line x1="1487.8" y1="446.3" x2="1487.8" y2="449.8" stroke="#2f4f4f" stroke-width="1"/>
<text transform="scale(1.08,1)" y="458.80" font-size="10.58" fill="#2f4f4f" font-weight="normal" stroke="#2f4f4f" stroke-width="0.3"><tspan x="1358.84 1364.21">3.</tspan><tspan x="1366.24" textLength="4.25" lengthAdjust="spacingAndGlyphs" stroke="#2f4f4f" stroke-width="0.60">1</tspan><tspan x="1369.75 1372.17 1377.71 1383.24 1388.77">.2022</tspan></text>
<line x1="1670.5" y1="446.3" x2="1670.5" y2="449.8" stroke="#2f4f4f" stroke-width="1"/>
<text transform="scale(1.08,1)" y="458.80" font-size="10.58" fill="#2f4f4f" font-weight="normal" stroke="#2f4f4f" stroke-width="0.3"><tspan x="1526.32" textLength="4.19" lengthAdjust="spacingAndGlyphs" stroke="#2f4f4f" stroke-width="0.60">1</tspan><tspan x="1529.89 1535.20">0.</tspan><tspan x="1537.22" textLength="4.19" lengthAdjust="spacingAndGlyphs" stroke="#2f4f4f" stroke-width="0.60">1</tspan><tspan x="1540.65 1543.02 1548.47 1553.92 1559.37">.2022</tspan></text>
<line x1="1853.3" y1="446.3" x2="1853.3" y2="449.8" stroke="#2f4f4f" stroke-width="1"/>
<text transform="scale(1.08,1)" y="458.80" font-size="10.58" fill="#2f4f4f" font-weight="normal" stroke="#2f4f4f" stroke-width="0.3"><tspan x="1695.68" textLength="4.16" lengthAdjust="spacingAndGlyphs" stroke="#2f4f4f" stroke-width="0.60">1</tspan><tspan x="1699.20 1704.48">7.</tspan><tspan x="1706.50" textLength="4.16" lengthAdjust="spacingAndGlyphs" stroke="#2f4f4f" stroke-width="0.60">1</tspan><tspan x="1709.89 1712.23 1717.64 1723.05 1728.46">.2022</tspan></text>
<path d="M279.57 276.97 L424.60 276.97 A145.03 145.03 0 0 1 416.20 325.62 Z" fill="#a0522d" stroke="#b4b4b4" stroke-width="1.2" stroke-linejoin="miter"/>
<path d="M278.88 278.22 L447.86 338.38 A179.37 179.37 0 0 1 323.47 451.96 Z" fill="#a000a0" stroke="#b4b4b4" stroke-width="1.2" stroke-linejoin="miter"/>
<path d="M277.72 278.78 L324.32 460.35 A187.45 187.45 0 0 1 285.14 466.08 Z" fill="#a00000" stroke="#b4b4b4" stroke-width="1.2" stroke-linejoin="miter"/>
<path d="M276.65 278.67 L285.03 490.15 A211.65 211.65 0 0 1 134.90 435.84 Z" fill="#ff7f50" stroke="#b4b4b4" stroke-width="1.2" stroke-linejoin="miter"/>
<path d="M275.79 278.10 L150.51 417.01 A187.06 187.06 0 0 1 128.69 393.65 Z" fill="#708090" stroke="#b4b4b4" stroke-width="1.2" stroke-linejoin="miter"/>
<path d="M275.53 277.75 L130.15 391.95 A184.86 184.86 0 0 1 108.18 356.31 Z" fill="#808000" stroke="#b4b4b4" stroke-width="1.2" stroke-linejoin="miter"/>
<path d="M275.25 277.08 L97.27 360.63 A196.62 196.62 0 0 1 78.63 277.51 Z" fill="#dc143c" stroke="#b4b4b4" stroke-width="1.2" stroke-linejoin="miter"/>
<path d="M275.91 274.98 L43.36 275.49 A232.55 232.55 0 0 1 296.38 43.33 Z" fill="#1e90ff" stroke="#b4b4b4" stroke-width="1.2" stroke-linejoin="miter"/>
<path d="M278.26 274.57 L297.89 52.33 A223.11 223.11 0 0 1 423.75 105.43 Z" fill="#00a000" stroke="#b4b4b4" stroke-width="1.2" stroke-linejoin="miter"/>
<path d="M278.96 275.05 L401.33 132.79 A187.65 187.65 0 0 1 422.21 153.84 Z" fill="#9acd32" stroke="#b4b4b4" stroke-width="1.2" stroke-linejoin="miter"/>
<path d="M279.30 275.50 L444.57 135.65 A216.49 216.49 0 0 1 482.75 201.47 Z" fill="#daa520" stroke="#b4b4b4" stroke-width="1.2" stroke-linejoin="miter"/>
<path d="M279.57 276.22 L459.94 210.59 A191.95 191.95 0 0 1 471.51 276.22 Z" fill="#20b2aa" stroke="#b4b4b4" stroke-width="1.2" stroke-linejoin="miter"/>
<text transform="scale(1.04,1)" y="299.59" font-size="12.46" fill="#ffffff" font-weight="normal" stroke="#ffffff" stroke-width="0.4"><tspan x="368.07 376.04">PM</tspan></text>
<text transform="scale(1.04,1)" y="386.89" font-size="12.46" fill="#ffffff" font-weight="normal" stroke="#ffffff" stroke-width="0.4"><tspan x="352.05 359.62">PD</tspan></text>
<text transform="scale(1.04,1)" y="429.83" font-size="12.46" fill="#ffffff" font-weight="normal" stroke="#ffffff" stroke-width="0.4"><tspan x="279.00 286.23">KO</tspan></text>
<text transform="scale(1.04,1)" y="440.81" font-size="12.46" fill="#ffffff" font-weight="normal" stroke="#ffffff" stroke-width="0.4"><tspan x="201.77 209.68">SA</tspan></text>
<text transform="scale(1.04,1)" y="383.03" font-size="12.46" fill="#ffffff" font-weight="normal" stroke="#ffffff" stroke-width="0.4"><tspan x="151.74 159.30">ZA</tspan></text>
<text transform="scale(1.04,1)" y="358.17" font-size="12.46" fill="#ffffff" font-weight="normal" stroke="#ffffff" stroke-width="0.4"><tspan x="135.28 143.19">PS</tspan></text>
<text transform="scale(1.04,1)" y="314.44" font-size="12.46" fill="#ffffff" font-weight="normal" stroke="#ffffff" stroke-width="0.4"><tspan x="109.46 116.33">JV</tspan></text>
<text transform="scale(1.04,1)" y="140.81" font-size="12.46" fill="#ffffff" font-weight="normal" stroke="#ffffff" stroke-width="0.4"><tspan x="134.70 143.31">OS</tspan></text>
<text transform="scale(1.04,1)" y="113.09" font-size="12.46" fill="#ffffff" font-weight="normal" stroke="#ffffff" stroke-width="0.4"><tspan x="324.71 332.62">GO</tspan></text>
<text transform="scale(1.04,1)" y="172.56" font-size="12.46" fill="#ffffff" font-weight="normal" stroke="#ffffff" stroke-width="0.4"><tspan x="361.61 369.18">PN</tspan></text>
<text transform="scale(1.04,1)" y="191.61" font-size="12.46" fill="#ffffff" font-weight="normal" stroke="#ffffff" stroke-width="0.4"><tspan x="403.01 411.62">GŠ</tspan></text>
<text transform="scale(1.04,1)" y="252.61" font-size="12.46" fill="#ffffff" font-weight="normal" stroke="#ffffff" stroke-width="0.4"><tspan x="404.38 412.99">OK</tspan></text>
<circle cx="277.4" cy="276.6" r="20" fill="#f4f4f4" fill-opacity="0.93" stroke="#808080" stroke-width="1"/>
<text transform="scale(1.08,1)" y="281.10" font-size="13.04" fill="#2f4f4f" font-weight="normal" stroke="#2f4f4f" stroke-width="0.3"><tspan x="249.68 256.89">7d</tspan></text>
<text transform="scale(1.08,1)" y="16.80" font-size="9.57" fill="#2f4f4f" font-weight="normal" stroke="#2f4f4f" stroke-width="0.3"><tspan x="12.36 17.76 23.16">pon</tspan></text>
<text transform="scale(1.08,1)" y="25.00" font-size="21.45" fill="#000080" font-weight="bold" stroke="#000080" stroke-width="0.9" filter="url(#shl)"><tspan x="30.85" textLength="8.74" lengthAdjust="spacingAndGlyphs" stroke="#000080" stroke-width="0.90">1</tspan><tspan x="38.48 49.48">7.</tspan><tspan x="53.61" textLength="8.74" lengthAdjust="spacingAndGlyphs" stroke="#000080" stroke-width="0.90">1</tspan><tspan x="60.86 65.89 77.26 88.64 100.01">.2022</tspan></text>
<rect x="163.10" y="7.7" width="35" height="19.6" fill="#a0522d"/>
<text transform="scale(1.0,1)" y="22.90" font-size="15.65" fill="#ffffff" font-weight="normal" stroke="#ffffff" stroke-width="0.6" filter="url(#shd)"><tspan x="169.20 178.93">PM</tspan></text>
<rect x="201.12" y="7.7" width="35" height="19.6" fill="#a000a0"/>
<text transform="scale(1.0,1)" y="22.90" font-size="15.65" fill="#ffffff" font-weight="normal" stroke="#ffffff" stroke-width="0.6" filter="url(#shd)"><tspan x="208.55 217.82">PD</tspan></text>
<rect x="239.14" y="7.7" width="35" height="19.6" fill="#a00000"/>
<text transform="scale(1.0,1)" y="22.90" font-size="15.65" fill="#ffffff" font-weight="normal" stroke="#ffffff" stroke-width="0.6" filter="url(#shd)"><tspan x="246.57 255.40">KO</tspan></text>
<rect x="277.16" y="7.7" width="35" height="19.6" fill="#ff7f50"/>
<text transform="scale(1.0,1)" y="22.90" font-size="15.65" fill="#ffffff" font-weight="normal" stroke="#ffffff" stroke-width="0.6" filter="url(#shd)"><tspan x="284.59 294.29">SA</tspan></text>
<rect x="315.18" y="7.7" width="35" height="19.6" fill="#708090"/>
<text transform="scale(1.0,1)" y="22.90" font-size="15.65" fill="#ffffff" font-weight="normal" stroke="#ffffff" stroke-width="0.6" filter="url(#shd)"><tspan x="323.05 332.31">ZA</tspan></text>
<rect x="353.20" y="7.7" width="35" height="19.6" fill="#808000"/>
<text transform="scale(1.0,1)" y="22.90" font-size="15.65" fill="#ffffff" font-weight="normal" stroke="#ffffff" stroke-width="0.6" filter="url(#shd)"><tspan x="360.63 370.33">PS</tspan></text>
<rect x="391.22" y="7.7" width="35" height="19.6" fill="#dc143c"/>
<text transform="scale(1.0,1)" y="22.90" font-size="15.65" fill="#ffffff" font-weight="normal" stroke="#ffffff" stroke-width="0.6" filter="url(#shd)"><tspan x="399.96 408.35">JV</tspan></text>
<rect x="429.24" y="7.7" width="35" height="19.6" fill="#1e90ff"/>
<text transform="scale(1.0,1)" y="22.90" font-size="15.65" fill="#ffffff" font-weight="normal" stroke="#ffffff" stroke-width="0.6" filter="url(#shd)"><tspan x="435.80 446.37">OS</tspan></text>
<rect x="467.26" y="7.7" width="35" height="19.6" fill="#00a000"/>
<text transform="scale(1.0,1)" y="22.90" font-size="15.65" fill="#ffffff" font-weight="normal" stroke="#ffffff" stroke-width="0.6" filter="url(#shd)"><tspan x="473.82 483.52">GO</tspan></text>
<rect x="505.28" y="7.7" width="35" height="19.6" fill="#9acd32"/>
<text transform="scale(1.0,1)" y="22.90" font-size="15.65" fill="#ffffff" font-weight="normal" stroke="#ffffff" stroke-width="0.6" filter="url(#shd)"><tspan x="512.71 521.98">PN</tspan></text>
<rect x="543.30" y="7.7" width="35" height="19.6" fill="#daa520"/>
<text transform="scale(1.0,1)" y="22.90" font-size="15.65" fill="#ffffff" font-weight="normal" stroke="#ffffff" stroke-width="0.6" filter="url(#shd)"><tspan x="549.86 560.43">GŠ</tspan></text>
<rect x="581.32" y="7.7" width="35" height="19.6" fill="#20b2aa"/>
<text transform="scale(1.0,1)" y="22.90" font-size="15.65" fill="#ffffff" font-weight="normal" stroke="#ffffff" stroke-width="0.6" filter="url(#shd)"><tspan x="587.88 598.45">OK</tspan></text>
<text transform="scale(1.08,1)" y="19.70" font-size="12.46" fill="#2f4f4f" font-weight="normal" stroke="#2f4f4f" stroke-width="0.3"><tspan x="1586.15 1593.46 1598.17 1602.02 1608.82 1614.80">https:</tspan><tspan x="1618.82 1624.13 1628.63 1634.73 1641.54 1647.75 1650.14 1656.95 1663.16 1665.56 1671.88 1674.74 1681.19 1688.51">//covidslo.net</tspan></text>
<text transform="scale(1.08,1)" y="19.70" font-size="14.78" fill="#0000ff" font-weight="bold" stroke="#0000ff" stroke-width="0.3" filter="url(#shl)"><tspan x="1699.12 1707.57 1716.84 1725.05 1728.74">covid</tspan></text>
<text transform="scale(1.08,1)" y="19.70" font-size="14.78" fill="#ff0000" font-weight="bold" stroke="#ff0000" stroke-width="0.3" filter="url(#shl)"><tspan x="1739.39 1749.37 1757.71">SLO</tspan></text>
<rect x="1749.5" y="27" width="167.5" height="14.6" fill="#ffffff"/>
<text transform="scale(1.08,1)" y="37.60" font-size="12.17" fill="#2f4f4f" font-weight="normal" stroke="#2f4f4f" stroke-width="0.35"><tspan x="1623.71 1631.28 1638.51 1642.35 1649.25 1653.50 1656.42 1666.01 1672.49 1674.91 1681.65 1688.21 1692.39 1698.64 1701.58 1704.51 1713.07 1719.71 1726.34 1732.97 1740.66 1745.63 1752.26 1758.89 1765.52">Peter Malovrh, ©2020-2022</tspan></text>
</svg>
</body></html>
